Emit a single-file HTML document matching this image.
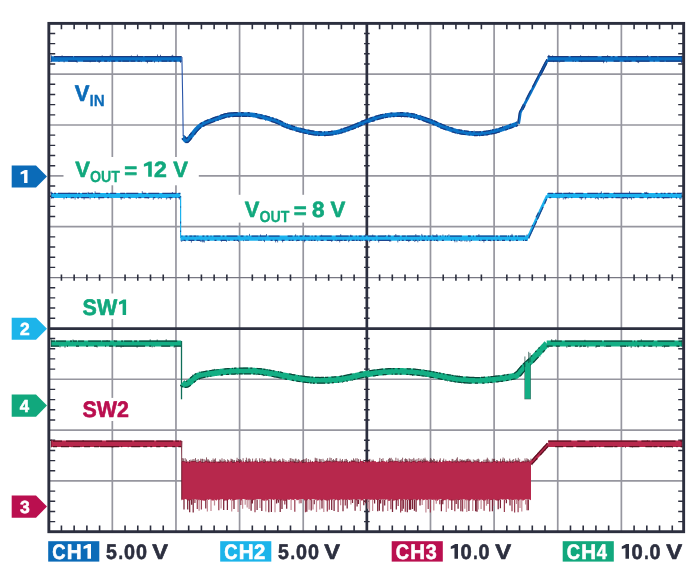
<!DOCTYPE html>
<html><head><meta charset="utf-8"><title>Scope</title>
<style>
html,body{margin:0;padding:0;background:#fff;}
body{width:700px;height:585px;overflow:hidden;font-family:"Liberation Sans",sans-serif;}
svg text.b{font-family:"Liberation Sans",sans-serif;font-weight:700;font-kerning:none;text-rendering:geometricPrecision;}
</style></head><body>
<svg width="700" height="585" viewBox="0 0 700 585" style="display:block">
<rect width="700" height="585" fill="#fff"/>
<path d="M112.33 24 V531 M175.96 24 V531 M239.59 24 V531 M303.22 24 V531 M430.48 24 V531 M494.11 24 V531 M557.74 24 V531 M621.37 24 V531 M50 74.15 H683 M50 125.00 H683 M50 175.85 H683 M50 226.70 H683 M50 379.25 H683 M50 430.10 H683 M50 480.95 H683" stroke="#96969f" stroke-width="1.7" fill="none"/>
<path d="M50 277.55 H683" stroke="#777782" stroke-width="1.3" fill="none"/>
<rect x="63.5" y="157" width="135.3" height="28.3" fill="#fff"/>
<rect x="236" y="194.8" width="112" height="27.8" fill="#fff"/>
<rect x="78" y="293.5" width="56" height="25.5" fill="#fff"/>
<rect x="78" y="397.9" width="56" height="23.1" fill="#fff"/>
<path d="M366.85 24 V531 M50 328.70 H683" stroke="#2c2f3f" stroke-width="2.7" fill="none"/>
<path d="M61.43 24 v5.3 M61.43 531 v-5.5 M61.43 274.45 v6.2 M74.15 24 v5.3 M74.15 531 v-5.5 M74.15 274.45 v6.2 M86.88 24 v5.3 M86.88 531 v-5.5 M86.88 274.45 v6.2 M99.60 24 v5.3 M99.60 531 v-5.5 M99.60 274.45 v6.2 M125.06 24 v5.3 M125.06 531 v-5.5 M125.06 274.45 v6.2 M137.78 24 v5.3 M137.78 531 v-5.5 M137.78 274.45 v6.2 M150.51 24 v5.3 M150.51 531 v-5.5 M150.51 274.45 v6.2 M163.23 24 v5.3 M163.23 531 v-5.5 M163.23 274.45 v6.2 M188.69 24 v5.3 M188.69 531 v-5.5 M188.69 274.45 v6.2 M201.41 24 v5.3 M201.41 531 v-5.5 M201.41 274.45 v6.2 M214.14 24 v5.3 M214.14 531 v-5.5 M214.14 274.45 v6.2 M226.86 24 v5.3 M226.86 531 v-5.5 M226.86 274.45 v6.2 M252.32 24 v5.3 M252.32 531 v-5.5 M252.32 274.45 v6.2 M265.04 24 v5.3 M265.04 531 v-5.5 M265.04 274.45 v6.2 M277.77 24 v5.3 M277.77 531 v-5.5 M277.77 274.45 v6.2 M290.49 24 v5.3 M290.49 531 v-5.5 M290.49 274.45 v6.2 M315.95 24 v5.3 M315.95 531 v-5.5 M315.95 274.45 v6.2 M328.67 24 v5.3 M328.67 531 v-5.5 M328.67 274.45 v6.2 M341.40 24 v5.3 M341.40 531 v-5.5 M341.40 274.45 v6.2 M354.12 24 v5.3 M354.12 531 v-5.5 M354.12 274.45 v6.2 M379.58 24 v5.3 M379.58 531 v-5.5 M379.58 274.45 v6.2 M392.30 24 v5.3 M392.30 531 v-5.5 M392.30 274.45 v6.2 M405.03 24 v5.3 M405.03 531 v-5.5 M405.03 274.45 v6.2 M417.75 24 v5.3 M417.75 531 v-5.5 M417.75 274.45 v6.2 M443.21 24 v5.3 M443.21 531 v-5.5 M443.21 274.45 v6.2 M455.93 24 v5.3 M455.93 531 v-5.5 M455.93 274.45 v6.2 M468.66 24 v5.3 M468.66 531 v-5.5 M468.66 274.45 v6.2 M481.38 24 v5.3 M481.38 531 v-5.5 M481.38 274.45 v6.2 M506.84 24 v5.3 M506.84 531 v-5.5 M506.84 274.45 v6.2 M519.56 24 v5.3 M519.56 531 v-5.5 M519.56 274.45 v6.2 M532.29 24 v5.3 M532.29 531 v-5.5 M532.29 274.45 v6.2 M545.01 24 v5.3 M545.01 531 v-5.5 M545.01 274.45 v6.2 M570.47 24 v5.3 M570.47 531 v-5.5 M570.47 274.45 v6.2 M583.19 24 v5.3 M583.19 531 v-5.5 M583.19 274.45 v6.2 M595.92 24 v5.3 M595.92 531 v-5.5 M595.92 274.45 v6.2 M608.64 24 v5.3 M608.64 531 v-5.5 M608.64 274.45 v6.2 M634.10 24 v5.3 M634.10 531 v-5.5 M634.10 274.45 v6.2 M646.82 24 v5.3 M646.82 531 v-5.5 M646.82 274.45 v6.2 M659.55 24 v5.3 M659.55 531 v-5.5 M659.55 274.45 v6.2 M672.27 24 v5.3 M672.27 531 v-5.5 M672.27 274.45 v6.2" stroke="#2c2f3f" stroke-width="1.6" fill="none"/>
<path d="M50 33.47 h5.2 M683 33.47 h-4.8 M364.05 33.47 h5.6 M50 43.64 h5.2 M683 43.64 h-4.8 M364.05 43.64 h5.6 M50 53.81 h5.2 M683 53.81 h-4.8 M364.05 53.81 h5.6 M50 63.98 h5.2 M683 63.98 h-4.8 M364.05 63.98 h5.6 M50 84.32 h5.2 M683 84.32 h-4.8 M364.05 84.32 h5.6 M50 94.49 h5.2 M683 94.49 h-4.8 M364.05 94.49 h5.6 M50 104.66 h5.2 M683 104.66 h-4.8 M364.05 104.66 h5.6 M50 114.83 h5.2 M683 114.83 h-4.8 M364.05 114.83 h5.6 M50 135.17 h5.2 M683 135.17 h-4.8 M364.05 135.17 h5.6 M50 145.34 h5.2 M683 145.34 h-4.8 M364.05 145.34 h5.6 M50 155.51 h5.2 M683 155.51 h-4.8 M364.05 155.51 h5.6 M50 165.68 h5.2 M683 165.68 h-4.8 M364.05 165.68 h5.6 M50 186.02 h5.2 M683 186.02 h-4.8 M364.05 186.02 h5.6 M50 196.19 h5.2 M683 196.19 h-4.8 M364.05 196.19 h5.6 M50 206.36 h5.2 M683 206.36 h-4.8 M364.05 206.36 h5.6 M50 216.53 h5.2 M683 216.53 h-4.8 M364.05 216.53 h5.6 M50 236.87 h5.2 M683 236.87 h-4.8 M364.05 236.87 h5.6 M50 247.04 h5.2 M683 247.04 h-4.8 M364.05 247.04 h5.6 M50 257.21 h5.2 M683 257.21 h-4.8 M364.05 257.21 h5.6 M50 267.38 h5.2 M683 267.38 h-4.8 M364.05 267.38 h5.6 M50 287.72 h5.2 M683 287.72 h-4.8 M364.05 287.72 h5.6 M50 297.89 h5.2 M683 297.89 h-4.8 M364.05 297.89 h5.6 M50 308.06 h5.2 M683 308.06 h-4.8 M364.05 308.06 h5.6 M50 318.23 h5.2 M683 318.23 h-4.8 M364.05 318.23 h5.6 M50 338.57 h5.2 M683 338.57 h-4.8 M364.05 338.57 h5.6 M50 348.74 h5.2 M683 348.74 h-4.8 M364.05 348.74 h5.6 M50 358.91 h5.2 M683 358.91 h-4.8 M364.05 358.91 h5.6 M50 369.08 h5.2 M683 369.08 h-4.8 M364.05 369.08 h5.6 M50 389.42 h5.2 M683 389.42 h-4.8 M364.05 389.42 h5.6 M50 399.59 h5.2 M683 399.59 h-4.8 M364.05 399.59 h5.6 M50 409.76 h5.2 M683 409.76 h-4.8 M364.05 409.76 h5.6 M50 419.93 h5.2 M683 419.93 h-4.8 M364.05 419.93 h5.6 M50 440.27 h5.2 M683 440.27 h-4.8 M364.05 440.27 h5.6 M50 450.44 h5.2 M683 450.44 h-4.8 M364.05 450.44 h5.6 M50 460.61 h5.2 M683 460.61 h-4.8 M364.05 460.61 h5.6 M50 470.78 h5.2 M683 470.78 h-4.8 M364.05 470.78 h5.6 M50 491.12 h5.2 M683 491.12 h-4.8 M364.05 491.12 h5.6 M50 501.29 h5.2 M683 501.29 h-4.8 M364.05 501.29 h5.6 M50 511.46 h5.2 M683 511.46 h-4.8 M364.05 511.46 h5.6 M50 521.63 h5.2 M683 521.63 h-4.8 M364.05 521.63 h5.6" stroke="#2c2f3f" stroke-width="1.4" fill="none"/>
<polyline points="51.0,58.9 52.0,58.9 53.0,58.9 54.0,58.9 55.0,58.9 56.0,58.9 57.0,58.9 58.0,58.9 59.0,58.9 60.0,58.9 61.0,58.9 62.1,58.9 63.1,58.9 64.1,58.9 65.1,58.9 66.1,58.9 67.1,58.9 68.1,58.9 69.1,58.9 70.1,58.9 71.1,58.9 72.1,58.9 73.1,58.9 74.1,58.9 75.1,58.9 76.1,58.9 77.1,58.9 78.1,58.9 79.1,58.9 80.1,58.9 81.1,58.9 82.1,58.9 83.1,58.9 84.2,58.9 85.2,58.9 86.2,58.9 87.2,58.9 88.2,58.9 89.2,58.9 90.2,58.9 91.2,58.9 92.2,58.9 93.2,58.9 94.2,58.9 95.2,58.9 96.2,58.9 97.2,58.9 98.2,58.9 99.2,58.9 100.2,58.9 101.2,58.9 102.2,58.9 103.2,58.9 104.2,58.9 105.2,58.9 106.3,58.9 107.3,58.9 108.3,58.9 109.3,58.9 110.3,58.9 111.3,58.9 112.3,58.9 113.3,58.9 114.3,58.9 115.3,58.9 116.3,58.9 117.3,58.9 118.3,58.9 119.3,58.9 120.3,58.9 121.3,58.9 122.3,58.9 123.3,58.9 124.3,58.9 125.3,58.9 126.3,58.9 127.4,58.9 128.4,58.9 129.4,58.9 130.4,58.9 131.4,58.9 132.4,58.9 133.4,58.9 134.4,58.9 135.4,58.9 136.4,58.9 137.4,58.9 138.4,58.9 139.4,58.9 140.4,58.9 141.4,58.9 142.4,58.9 143.4,58.9 144.4,58.9 145.4,58.9 146.4,58.9 147.4,58.9 148.4,58.9 149.5,58.9 150.5,58.9 151.5,58.9 152.5,58.9 153.5,58.9 154.5,58.9 155.5,58.9 156.5,58.9 157.5,58.9 158.5,58.9 159.5,58.9 160.5,58.9 161.5,58.9 162.5,58.9 163.5,58.9 164.5,58.9 165.5,58.9 166.5,58.9 167.5,58.9 168.5,58.9 169.5,58.9 170.5,58.9 171.6,58.9 172.6,58.9 173.6,58.9 174.6,58.9 175.6,58.9 176.6,58.9 177.6,58.9 178.6,58.9 179.6,58.9 180.6,58.9 181.6,58.9" fill="none" stroke="#0b72c6" stroke-width="5.5" stroke-linejoin="round"/>
<path d="M54.0 56.6 L55.0 56.6 L56.0 56.6 L57.0 56.6 L58.0 56.6 M58.0 56.6 L59.0 56.6 M59.0 56.6 L60.0 56.6 M60.0 56.6 L61.0 56.6 M61.0 56.6 L62.1 56.6 L63.1 56.6 M63.1 56.6 L64.1 56.6 L65.1 56.6 L66.1 56.6 L67.1 56.6 M67.1 56.6 L68.1 56.6 L69.1 56.6 M69.1 56.6 L70.1 56.6 L71.1 56.6 L72.1 56.6 L73.1 56.6 M74.1 56.6 L75.1 56.6 M75.1 56.6 L76.1 56.6 L77.1 56.6 L78.1 56.6 L79.1 56.6 M79.1 56.6 L80.1 56.6 L81.1 56.6 M81.1 56.6 L82.1 56.6 L83.1 56.6 M83.1 56.6 L84.2 56.6 L85.2 56.6 M85.2 56.6 L86.2 56.6 L87.2 56.6 L88.2 56.6 M88.2 56.6 L89.2 56.6 L90.2 56.6 M90.2 56.6 L91.2 56.6 L92.2 56.6 M92.2 56.6 L93.2 56.6 M93.2 56.6 L94.2 56.6 L95.2 56.6 M95.2 56.6 L96.2 56.6 L97.2 56.6 L98.2 56.6 L99.2 56.6 M99.2 56.6 L100.2 56.6 L101.2 56.6 L102.2 56.6 L103.2 56.6 M103.2 56.6 L104.2 56.6 L105.2 56.6 L106.3 56.6 L107.3 56.6 M107.3 56.6 L108.3 56.6 L109.3 56.6 M109.3 56.6 L110.3 56.6 L111.3 56.6 M111.3 56.6 L112.3 56.6 L113.3 56.6 L114.3 56.6 M114.3 56.6 L115.3 56.6 L116.3 56.6 L117.3 56.6 M117.3 56.6 L118.3 56.6 L119.3 56.6 L120.3 56.6 M120.3 56.6 L121.3 56.6 M121.3 56.6 L122.3 56.6 L123.3 56.6 L124.3 56.6 L125.3 56.6 M125.3 56.6 L126.3 56.6 L127.4 56.6 L128.4 56.6 M128.4 56.6 L129.4 56.6 L130.4 56.6 L131.4 56.6 L132.4 56.6 M132.4 56.6 L133.4 56.6 M133.4 56.6 L134.4 56.6 L135.4 56.6 L136.4 56.6 M136.4 56.6 L137.4 56.6 L138.4 56.6 L139.4 56.6 M139.4 56.6 L140.4 56.6 L141.4 56.6 L142.4 56.6 L143.4 56.6 M144.4 56.6 L145.4 56.6 L146.4 56.6 L147.4 56.6 L148.4 56.6 M148.4 56.6 L149.5 56.6 M149.5 56.6 L150.5 56.6 L151.5 56.6 L152.5 56.6 M152.5 56.6 L153.5 56.6 L154.5 56.6 L155.5 56.6 L156.5 56.6 M156.5 56.6 L157.5 56.6 L158.5 56.6 L159.5 56.6 L160.5 56.6 M160.5 56.6 L161.5 56.6 L162.5 56.6 L163.5 56.6 M163.5 56.6 L164.5 56.6 L165.5 56.6 L166.5 56.6 L167.5 56.6 M167.5 56.6 L168.5 56.6 M168.5 56.6 L169.5 56.6 L170.5 56.6 M170.5 56.6 L171.6 56.6 L172.6 56.6 M172.6 56.6 L173.6 56.6 L174.6 56.6 L175.6 56.6 L176.6 56.6 M176.6 56.6 L177.6 56.6 L178.6 56.6 L179.6 56.6 L180.6 56.6 M180.6 56.6 L181.6 56.6 M68.1 61.2 L69.1 61.2 L70.1 61.2 M70.1 61.2 L71.1 61.2 L72.1 61.2 M72.1 61.2 L73.1 61.2 L74.1 61.2 M74.1 61.2 L75.1 61.2 L76.1 61.2 M76.1 61.2 L77.1 61.2 M83.1 61.2 L84.2 61.2 M84.2 61.2 L85.2 61.2 L86.2 61.2 L87.2 61.2 L88.2 61.2 M88.2 61.2 L89.2 61.2 L90.2 61.2 L91.2 61.2 L92.2 61.2 M92.2 61.2 L93.2 61.2 L94.2 61.2 L95.2 61.2 L96.2 61.2 M97.2 61.2 L98.2 61.2 L99.2 61.2 L100.2 61.2 L101.2 61.2 M104.2 61.2 L105.2 61.2 M105.2 61.2 L106.3 61.2 L107.3 61.2 M111.3 61.2 L112.3 61.2 L113.3 61.2 L114.3 61.2 L115.3 61.2 M118.3 61.2 L119.3 61.2 L120.3 61.2 L121.3 61.2 M122.3 61.2 L123.3 61.2 L124.3 61.2 L125.3 61.2 L126.3 61.2 M126.3 61.2 L127.4 61.2 L128.4 61.2 L129.4 61.2 M130.4 61.2 L131.4 61.2 L132.4 61.2 L133.4 61.2 M133.4 61.2 L134.4 61.2 L135.4 61.2 M137.4 61.2 L138.4 61.2 L139.4 61.2 L140.4 61.2 M145.4 61.2 L146.4 61.2 L147.4 61.2 L148.4 61.2 M148.4 61.2 L149.5 61.2 L150.5 61.2 M150.5 61.2 L151.5 61.2 L152.5 61.2 M161.5 61.2 L162.5 61.2 L163.5 61.2 M163.5 61.2 L164.5 61.2 L165.5 61.2 L166.5 61.2 L167.5 61.2 M168.5 61.2 L169.5 61.2 L170.5 61.2 L171.6 61.2 M173.6 61.2 L174.6 61.2 L175.6 61.2 L176.6 61.2 M179.6 61.2 L180.6 61.2 L181.6 61.2" stroke="#17367c" stroke-width="1.25" fill="none" opacity="0.95"/>
<path d="M51.0 61.0 l-0.0 1.1 M59.0 61.0 l-0.0 1.0 M62.1 56.8 l0.0 -1.5 M64.1 61.0 l-0.0 1.4 M68.1 56.8 l0.0 -0.8 M76.1 61.0 l-0.0 1.0 M77.1 61.0 l-0.0 1.8 M90.2 61.0 l-0.0 1.3 M99.2 61.0 l-0.0 2.0 M102.2 56.8 l0.0 -1.5 M109.3 61.0 l-0.0 0.9 M110.3 56.8 l0.0 -2.0 M131.4 56.8 l0.0 -1.4 M137.4 56.8 l0.0 -2.2 M141.4 61.0 l-0.0 1.1 M147.4 61.0 l-0.0 2.3 M151.5 61.0 l-0.0 0.8 M154.5 61.0 l-0.0 1.6 M157.5 56.8 l0.0 -2.3 M158.5 61.0 l-0.0 1.2 M160.5 56.8 l0.0 -2.0 M171.6 56.8 l0.0 -1.2 M172.6 56.8 l0.0 -2.0 M173.6 56.8 l0.0 -0.9 M180.6 61.0 l-0.0 1.9" stroke="#17367c" stroke-width="0.9" fill="none" opacity="0.8"/>
<path d="M181.9 57 L182.7 100 L183.2 136" stroke="#2a55a8" stroke-width="1.1" fill="none"/>
<polygon points="183.2,135.5 184.6,135.5 186.2,138.2 189.5,136.8 190.8,138.4 187.8,142.9 185.4,142.9 183.2,140.2" fill="#0b72c6" stroke="#17367c" stroke-width="0.6" stroke-opacity="0.6"/>
<polyline points="183.6,137.5 184.3,138.7 185.2,140.0 186.2,140.6 187.2,140.6 188.1,139.7 189.2,138.3 190.5,136.8 192.0,135.0 192.9,133.7 193.9,132.4 195.0,131.0 195.9,129.9 196.9,128.8 197.9,127.8 199.0,126.8 199.9,126.1 200.9,125.4 201.9,124.8 202.9,124.2 204.0,123.6 205.0,123.1 206.0,122.7 207.0,122.3 208.0,121.9 209.2,121.4 210.3,121.0 211.3,120.6 212.3,120.2 213.4,119.8 214.5,119.4 215.6,119.0 216.8,118.6 218.0,118.2 219.0,117.9 219.9,117.5 220.9,117.1 221.9,116.8 222.9,116.4 224.0,116.0 225.1,115.7 226.2,115.4 227.4,115.2 228.3,115.1 229.3,114.9 230.3,114.8 231.3,114.7 232.3,114.7 233.4,114.6 234.4,114.6 235.5,114.5 236.6,114.5 237.7,114.5 238.9,114.5 240.0,114.5 240.9,114.5 241.8,114.5 242.8,114.5 243.7,114.5 244.6,114.5 245.6,114.5 246.6,114.5 247.5,114.5 248.5,114.6 249.5,114.6 250.6,114.7 251.6,114.8 252.7,115.0 253.8,115.1 255.0,115.3 255.9,115.5 256.8,115.7 257.8,115.9 258.8,116.1 259.8,116.3 260.9,116.6 261.9,116.8 263.0,117.1 264.1,117.4 265.2,117.7 266.2,118.0 267.3,118.3 268.4,118.6 269.4,118.9 270.4,119.2 271.4,119.5 272.4,119.8 273.3,120.1 274.2,120.4 275.0,120.7 276.3,121.2 277.5,121.6 278.5,122.1 279.5,122.5 280.5,123.0 281.4,123.5 282.3,123.9 283.2,124.4 284.2,124.9 285.2,125.3 286.3,125.8 287.5,126.2 288.4,126.5 289.3,126.8 290.3,127.2 291.3,127.5 292.4,127.8 293.4,128.1 294.5,128.5 295.6,128.8 296.6,129.1 297.7,129.4 298.8,129.7 299.9,130.0 300.9,130.3 302.0,130.6 303.0,130.8 304.0,131.1 305.0,131.3 306.1,131.5 307.1,131.8 308.2,132.0 309.2,132.2 310.2,132.4 311.2,132.6 312.2,132.8 313.1,132.9 314.1,133.1 315.1,133.2 316.1,133.3 317.0,133.4 318.0,133.5 319.0,133.5 320.0,133.6 321.0,133.6 322.0,133.7 323.0,133.7 324.0,133.7 325.0,133.6 326.0,133.6 327.0,133.5 328.0,133.5 329.0,133.4 330.0,133.3 331.0,133.2 332.0,133.1 333.0,132.9 334.0,132.8 335.0,132.6 336.0,132.4 337.0,132.2 338.0,132.0 339.0,131.7 339.9,131.5 340.9,131.2 341.9,130.9 342.9,130.6 343.9,130.3 344.9,130.0 345.9,129.6 346.9,129.3 347.9,128.9 349.0,128.6 350.0,128.2 351.0,127.8 352.0,127.4 353.0,127.0 354.1,126.6 355.1,126.2 356.2,125.7 357.2,125.3 358.3,124.8 359.4,124.3 360.4,123.9 361.5,123.4 362.5,122.9 363.6,122.5 364.6,122.1 365.7,121.7 366.7,121.3 367.8,120.9 368.9,120.5 369.9,120.1 371.0,119.7 372.1,119.4 373.1,119.0 374.2,118.6 375.2,118.3 376.3,118.0 377.3,117.7 378.4,117.3 379.4,117.1 380.4,116.8 381.5,116.5 382.5,116.3 383.5,116.1 384.5,115.9 385.6,115.7 386.6,115.5 387.6,115.4 388.6,115.3 389.6,115.1 390.5,115.0 391.5,114.9 392.5,114.8 393.5,114.8 394.5,114.7 395.5,114.7 396.5,114.6 397.5,114.6 398.5,114.6 399.5,114.6 400.5,114.6 401.4,114.6 402.4,114.6 403.4,114.6 404.4,114.6 405.3,114.7 406.3,114.7 407.3,114.8 408.3,114.9 409.3,115.1 410.4,115.2 411.4,115.4 412.5,115.6 413.5,115.8 414.5,116.0 415.5,116.3 416.5,116.6 417.5,116.9 418.6,117.2 419.7,117.5 420.7,117.9 421.8,118.2 422.8,118.6 423.9,119.0 425.0,119.4 426.0,119.7 427.0,120.1 428.0,120.5 429.0,120.8 430.0,121.2 431.1,121.6 432.1,122.0 433.2,122.4 434.2,122.9 435.2,123.3 436.2,123.8 437.2,124.2 438.1,124.6 439.1,125.1 440.1,125.5 441.1,125.9 442.0,126.4 443.0,126.7 444.0,127.1 445.0,127.5 446.0,127.9 447.0,128.2 448.0,128.5 448.9,128.9 449.9,129.2 450.9,129.5 451.8,129.8 452.8,130.1 453.8,130.4 454.8,130.7 455.8,131.0 456.8,131.2 457.8,131.5 458.9,131.7 460.0,131.9 460.9,132.1 461.9,132.2 462.8,132.4 463.8,132.6 464.8,132.7 465.8,132.8 466.8,133.0 467.8,133.1 468.9,133.2 469.9,133.3 470.9,133.4 472.0,133.5 473.0,133.6 474.0,133.6 475.0,133.7 476.0,133.7 477.0,133.7 478.0,133.7 479.0,133.7 480.1,133.6 481.1,133.6 482.1,133.5 483.1,133.4 484.2,133.3 485.2,133.1 486.2,133.0 487.2,132.8 488.2,132.7 489.2,132.5 490.2,132.3 491.2,132.1 492.1,131.9 493.1,131.7 494.1,131.5 495.0,131.3 496.1,131.0 497.2,130.8 498.2,130.4 499.3,130.1 500.4,129.8 501.5,129.4 502.6,129.1 503.6,128.7 504.6,128.3 505.6,128.0 506.6,127.6 507.5,127.3 508.4,127.0 509.2,126.7 510.0,126.4 511.5,125.9 512.9,125.4 514.1,124.9 515.2,124.6 516.1,124.2 516.9,123.9 517.5,123.7" fill="none" stroke="#0b72c6" stroke-width="4.6" stroke-linejoin="round"/>
<path d="M185.2 136.6 L185.8 137.7 M185.8 137.7 L186.5 138.7 M186.4 138.9 L186.8 138.5 M186.8 138.5 L187.8 137.1 M189.1 135.6 L190.6 133.8 M190.6 133.8 L191.5 132.6 M199.8 123.9 L200.9 123.2 M200.9 123.2 L202.0 122.6 M204.2 121.5 L205.2 121.0 M205.2 121.0 L206.3 120.6 L207.4 120.1 M207.4 120.1 L208.5 119.7 M210.7 118.9 L211.7 118.5 L212.8 118.1 M212.8 118.1 L213.9 117.7 L215.0 117.3 M215.0 117.3 L216.2 116.9 M216.2 116.9 L217.4 116.5 L218.3 116.1 M220.2 115.4 L221.2 115.0 L222.3 114.6 M222.3 114.6 L223.4 114.3 L224.6 113.9 M224.6 113.9 L225.8 113.6 M225.8 113.6 L227.1 113.4 L228.1 113.2 M228.1 113.2 L229.1 113.1 L230.1 113.0 M230.1 113.0 L231.1 112.9 M231.1 112.9 L232.2 112.8 M232.2 112.8 L233.3 112.8 M233.3 112.8 L234.4 112.7 M234.4 112.7 L235.5 112.7 L236.6 112.7 M236.6 112.7 L237.7 112.7 M240.9 112.7 L241.8 112.6 L242.8 112.6 M242.8 112.6 L243.7 112.6 M247.6 112.7 L248.6 112.7 M248.6 112.7 L249.7 112.8 M255.3 113.5 L256.2 113.6 M256.2 113.6 L257.2 113.8 M260.3 114.5 L261.3 114.8 L262.4 115.1 M264.6 115.6 L265.6 115.9 M265.6 115.9 L266.7 116.2 L267.8 116.5 M267.8 116.5 L268.9 116.8 L269.9 117.2 M271.9 117.8 L272.9 118.1 M272.9 118.1 L273.8 118.4 M275.6 119.0 L276.9 119.4 M276.9 119.4 L278.2 119.9 M279.3 120.4 L280.3 120.9 L281.3 121.3 M281.3 121.3 L282.2 121.8 L283.1 122.3 M285.0 123.2 L285.9 123.6 M287.0 124.0 L288.1 124.5 M290.9 125.4 L291.9 125.7 L292.9 126.1 M292.9 126.1 L294.0 126.4 M294.0 126.4 L295.0 126.7 M300.4 128.2 L301.4 128.5 L302.5 128.8 M302.5 128.8 L303.5 129.0 L304.5 129.3 M304.5 129.3 L305.4 129.5 M307.5 130.0 L308.5 130.2 L309.5 130.4 M309.5 130.4 L310.5 130.6 M310.5 130.6 L311.5 130.8 L312.5 130.9 M312.5 130.9 L313.4 131.1 L314.4 131.2 M318.2 131.6 L319.1 131.7 L320.1 131.8 M320.1 131.8 L321.1 131.8 M321.1 131.8 L322.0 131.8 M324.0 131.8 L324.9 131.8 M327.9 131.6 L328.8 131.6 M328.8 131.6 L329.8 131.5 L330.8 131.4 M330.8 131.4 L331.8 131.2 L332.7 131.1 M340.4 129.4 L341.4 129.1 L342.3 128.9 M343.3 128.5 L344.3 128.2 L345.3 127.9 M345.3 127.9 L346.3 127.5 M346.3 127.5 L347.3 127.2 L348.3 126.8 M348.3 126.8 L349.4 126.5 L350.3 126.1 M350.3 126.1 L351.3 125.7 L352.3 125.3 M352.3 125.3 L353.4 124.9 M353.4 124.9 L354.4 124.5 L355.4 124.0 M355.4 124.0 L356.5 123.6 M356.5 123.6 L357.6 123.1 L358.6 122.6 M360.8 121.7 L361.8 121.2 L362.9 120.8 M362.9 120.8 L364.0 120.4 M364.0 120.4 L365.0 120.0 M365.0 120.0 L366.1 119.6 M366.1 119.6 L367.1 119.2 L368.2 118.8 M369.3 118.4 L370.4 118.0 L371.5 117.6 M371.5 117.6 L372.5 117.3 M374.7 116.5 L375.7 116.2 L376.8 115.9 M376.8 115.9 L377.9 115.6 L378.9 115.3 M378.9 115.3 L380.0 115.0 M380.0 115.0 L381.0 114.7 M381.0 114.7 L382.1 114.5 L383.2 114.3 M385.2 113.9 L386.3 113.7 M390.4 113.2 L391.4 113.1 L392.4 113.0 M397.5 112.8 L398.5 112.7 M399.5 112.7 L400.5 112.7 L401.4 112.7 M401.4 112.7 L402.4 112.7 M402.4 112.7 L403.4 112.7 M406.5 112.9 L407.5 113.0 L408.5 113.1 M410.7 113.4 L411.8 113.6 M411.8 113.6 L412.9 113.8 L413.9 114.0 M413.9 114.0 L414.9 114.2 M415.9 114.5 L417.0 114.8 M421.3 116.1 L422.4 116.5 M422.4 116.5 L423.5 116.9 M424.5 117.2 L425.6 117.6 L426.6 118.0 M426.6 118.0 L427.7 118.4 M427.7 118.4 L428.7 118.7 L429.7 119.1 M430.6 119.5 L431.7 119.9 L432.8 120.3 M433.9 120.7 L434.9 121.2 L435.9 121.6 M435.9 121.6 L436.9 122.1 L437.9 122.5 M439.9 123.4 L440.8 123.8 M440.8 123.8 L441.8 124.2 M441.8 124.2 L442.7 124.6 M442.7 124.6 L443.7 125.0 M443.7 125.0 L444.7 125.4 L445.6 125.8 M447.6 126.5 L448.6 126.8 M450.5 127.4 L451.4 127.8 M451.4 127.8 L452.4 128.1 M452.4 128.1 L453.3 128.4 M458.3 129.7 L459.3 129.9 L460.3 130.1 M460.3 130.1 L461.3 130.2 L462.2 130.4 M464.1 130.7 L465.1 130.9 L466.1 131.0 M466.1 131.0 L467.1 131.1 M467.1 131.1 L468.1 131.3 L469.1 131.4 M471.1 131.6 L472.1 131.7 M472.1 131.7 L473.1 131.7 M475.1 131.8 L476.1 131.8 L477.0 131.9 M477.0 131.9 L478.0 131.9 L479.0 131.8 M479.0 131.8 L480.0 131.8 L481.0 131.7 M482.9 131.5 L483.9 131.4 L484.9 131.3 M484.9 131.3 L485.9 131.2 L486.9 131.0 M486.9 131.0 L487.9 130.9 L488.9 130.7 M488.9 130.7 L489.8 130.5 M489.8 130.5 L490.8 130.3 M491.8 130.1 L492.7 129.9 L493.7 129.7 M495.6 129.2 L496.7 129.0 M498.8 128.3 L499.9 128.0 L500.9 127.7 M500.9 127.7 L502.0 127.3 M502.0 127.3 L503.0 126.9 M509.4 124.7 L510.9 124.1 M516.2 122.2 L516.9 122.0 M182.0 138.4 L182.7 139.7 M185.6 142.4 L188.0 142.3 M188.0 142.3 L189.5 140.9 M189.5 140.9 L190.6 139.5 L191.9 138.0 M194.4 134.8 L195.4 133.5 M195.4 133.5 L196.4 132.2 M196.4 132.2 L197.3 131.2 L198.2 130.1 M198.2 130.1 L199.2 129.1 L200.2 128.2 M200.2 128.2 L201.0 127.6 M202.8 126.4 L203.8 125.8 L204.8 125.2 M204.8 125.2 L205.7 124.8 L206.7 124.4 M206.7 124.4 L207.7 124.0 L208.7 123.6 M208.7 123.6 L209.8 123.2 M209.8 123.2 L211.0 122.7 M211.0 122.7 L212.0 122.3 M212.0 122.3 L213.0 122.0 L214.1 121.6 M214.1 121.6 L215.1 121.2 M217.4 120.4 L218.6 119.9 M221.5 118.9 L222.5 118.5 L223.5 118.1 M223.5 118.1 L224.5 117.8 L225.5 117.5 M225.5 117.5 L226.6 117.2 M227.7 117.0 L228.6 116.9 L229.5 116.8 M229.5 116.8 L230.4 116.7 M232.4 116.5 L233.4 116.5 M233.4 116.5 L234.5 116.4 L235.5 116.4 M235.5 116.4 L236.6 116.4 L237.7 116.4 M237.7 116.4 L238.9 116.3 M238.9 116.3 L240.0 116.3 L240.9 116.4 M241.9 116.3 L242.8 116.3 L243.7 116.3 M243.7 116.3 L244.6 116.3 L245.6 116.3 M245.6 116.3 L246.5 116.4 L247.5 116.4 M248.4 116.4 L249.4 116.5 L250.4 116.6 M257.4 117.7 L258.4 117.9 L259.4 118.1 M259.4 118.1 L260.4 118.4 M260.4 118.4 L261.5 118.6 L262.5 118.9 M270.9 121.3 L271.8 121.6 L272.7 121.9 M272.7 121.9 L273.6 122.2 M273.6 122.2 L274.4 122.4 L275.6 122.9 M275.6 122.9 L276.8 123.3 M276.8 123.3 L277.8 123.8 M277.8 123.8 L278.7 124.2 L279.7 124.7 M281.5 125.6 L282.4 126.1 M282.4 126.1 L283.4 126.5 L284.5 127.0 M285.6 127.5 L286.9 127.9 M286.9 127.9 L287.8 128.3 M288.8 128.6 L289.7 128.9 L290.8 129.2 M290.8 129.2 L291.8 129.6 L292.9 129.9 M296.1 130.9 L297.2 131.2 M297.2 131.2 L298.3 131.5 M298.3 131.5 L299.4 131.8 M299.4 131.8 L300.5 132.1 M300.5 132.1 L301.5 132.4 M302.6 132.6 L303.6 132.9 L304.6 133.1 M304.6 133.1 L305.7 133.3 L306.7 133.6 M308.8 134.0 L309.8 134.2 L310.9 134.4 M310.9 134.4 L311.9 134.6 L312.9 134.7 M312.9 134.7 L313.9 134.9 L314.9 135.0 M314.9 135.0 L315.9 135.1 L316.9 135.2 M317.9 135.3 L318.9 135.4 L319.9 135.4 M324.0 135.5 L325.1 135.5 L326.1 135.4 M326.1 135.4 L327.1 135.4 M327.1 135.4 L328.1 135.3 L329.2 135.2 M329.2 135.2 L330.2 135.1 L331.2 135.0 M331.2 135.0 L332.2 134.9 M332.2 134.9 L333.3 134.8 M335.3 134.4 L336.4 134.2 M338.4 133.8 L339.4 133.5 M340.4 133.3 L341.4 133.0 M341.4 133.0 L342.4 132.7 L343.4 132.4 M344.4 132.1 L345.5 131.7 M347.5 131.0 L348.5 130.7 L349.6 130.3 M351.6 129.6 L352.7 129.2 L353.7 128.7 M353.7 128.7 L354.8 128.3 L355.8 127.9 M358.0 126.9 L359.0 126.5 M359.0 126.5 L360.1 126.0 M360.1 126.0 L361.2 125.6 L362.2 125.1 M364.3 124.2 L365.3 123.8 L366.3 123.4 M366.3 123.4 L367.3 123.0 L368.4 122.6 M371.6 121.5 L372.7 121.1 L373.7 120.8 M373.7 120.8 L374.8 120.4 M376.8 119.7 L377.9 119.4 L378.9 119.1 M378.9 119.1 L379.9 118.8 L380.9 118.6 M380.9 118.6 L381.9 118.3 L382.9 118.1 M382.9 118.1 L383.9 117.9 M384.9 117.7 L385.9 117.5 M385.9 117.5 L386.8 117.4 L387.8 117.2 M389.8 117.0 L390.7 116.9 M392.7 116.7 L393.6 116.6 L394.6 116.6 M396.6 116.5 L397.5 116.4 M397.5 116.4 L398.5 116.4 M398.5 116.4 L399.5 116.4 M399.5 116.4 L400.5 116.4 L401.4 116.4 M401.4 116.4 L402.4 116.4 L403.3 116.4 M403.3 116.4 L404.3 116.5 L405.2 116.5 M405.2 116.5 L406.2 116.6 M406.2 116.6 L407.1 116.7 L408.1 116.8 M410.1 117.0 L411.1 117.2 L412.1 117.4 M413.1 117.6 L414.0 117.8 L415.0 118.1 M418.0 119.0 L419.1 119.3 L420.1 119.6 M422.2 120.4 L423.3 120.7 L424.3 121.1 M424.3 121.1 L425.4 121.5 M425.4 121.5 L426.4 121.8 M426.4 121.8 L427.4 122.2 M427.4 122.2 L428.4 122.6 M428.4 122.6 L429.4 122.9 M429.4 122.9 L430.4 123.3 M432.4 124.2 L433.4 124.6 M433.4 124.6 L434.4 125.0 M437.4 126.3 L438.4 126.8 M440.3 127.6 L441.3 128.1 L442.3 128.5 M442.3 128.5 L443.3 128.9 L444.4 129.2 M444.4 129.2 L445.4 129.6 M445.4 129.6 L446.4 129.9 M452.3 131.9 L453.3 132.2 L454.3 132.5 M454.3 132.5 L455.3 132.8 M455.3 132.8 L456.4 133.0 M458.5 133.5 L459.7 133.7 L460.6 133.9 M460.6 133.9 L461.6 134.1 L462.5 134.2 M462.5 134.2 L463.5 134.4 M463.5 134.4 L464.5 134.5 L465.6 134.7 M468.7 135.1 L469.7 135.2 M473.9 135.5 L475.0 135.5 M475.0 135.5 L476.0 135.5 M476.0 135.5 L477.0 135.6 M477.0 135.6 L478.0 135.5 M479.1 135.5 L480.2 135.5 M481.2 135.4 L482.3 135.3 M482.3 135.3 L483.3 135.2 L484.4 135.1 M485.4 135.0 L486.5 134.8 L487.5 134.7 M487.5 134.7 L488.5 134.5 M488.5 134.5 L489.5 134.3 M490.5 134.1 L491.5 133.9 L492.5 133.7 M492.5 133.7 L493.5 133.5 M493.5 133.5 L494.5 133.3 M494.5 133.3 L495.4 133.1 L496.5 132.8 M496.5 132.8 L497.6 132.5 M497.6 132.5 L498.8 132.2 L499.9 131.9 M505.3 130.1 L506.3 129.7 M506.3 129.7 L507.2 129.4 M507.2 129.4 L508.1 129.0 M509.0 128.7 L509.8 128.4 M509.8 128.4 L510.6 128.1 L512.1 127.6 M512.1 127.6 L513.5 127.1 M515.8 126.3 L516.8 125.9 M516.8 125.9 L517.5 125.7 L518.1 125.4" stroke="#17367c" stroke-width="1.25" fill="none" opacity="0.95"/>
<path d="M203.7 125.7 l0.6 1.1 M220.5 119.1 l0.3 0.9 M260.5 118.2 l-0.3 1.2 M265.8 119.6 l-0.3 1.1 M284.5 126.9 l-0.4 0.8 M290.8 129.1 l-0.3 1.0 M296.2 130.7 l-0.3 1.2 M308.8 133.9 l-0.2 1.0 M318.9 135.2 l-0.1 1.0 M320.1 131.9 l0.0 -1.0 M357.9 126.8 l0.5 1.1 M364.2 124.1 l0.3 0.8 M367.3 122.9 l0.4 1.2 M371.5 117.8 l-0.3 -0.9 M373.7 120.6 l0.3 0.9 M401.4 116.3 l-0.0 1.3 M420.2 115.9 l0.3 -1.1 M426.4 121.7 l-0.3 0.9 M428.4 122.4 l-0.3 0.9 M452.3 131.8 l-0.3 1.0 M457.5 133.1 l-0.2 1.1 M474.1 131.9 l0.1 -1.3 M487.5 134.5 l0.2 1.0 M493.5 133.4 l0.2 1.0 M503.0 127.1 l-0.3 -0.8" stroke="#17367c" stroke-width="0.9" fill="none" opacity="0.8"/>
<polyline points="518.6,123.8 519.5,118.2 520.3,112.5 521.1,110.9 521.9,109.4 522.7,107.8 523.5,106.3 524.3,104.7 525.1,103.2 525.9,101.6 526.7,100.1 527.6,98.5 528.4,96.9 529.2,95.4 530.0,93.8 530.8,92.3 531.6,90.7 532.4,89.2 533.2,87.6 534.0,86.0 534.8,84.5 535.6,82.9 536.4,81.4 537.2,79.8 538.0,78.3 538.8,76.7 539.6,75.2 540.4,73.6 541.3,72.0 542.1,70.5 542.9,68.9 543.7,67.4 544.5,65.8 545.3,64.3 546.1,62.7 546.9,61.2 547.7,59.6" fill="none" stroke="#0b72c6" stroke-width="2.8" stroke-linejoin="round"/>
<path d="M517.7 123.7 L518.5 118.0 L519.4 112.3 M519.4 112.3 L520.3 110.5 M520.3 110.5 L521.1 109.0 L521.9 107.4 L522.7 105.8 L523.5 104.3 M525.9 99.6 L526.7 98.1 M526.7 98.1 L527.5 96.5 M527.5 96.5 L528.3 94.9 M528.3 94.9 L529.1 93.4 L529.9 91.8 L530.7 90.3 M532.4 87.2 L533.2 85.6 L534.0 84.1 L534.8 82.5 L535.6 80.9 M535.6 80.9 L536.4 79.4 L537.2 77.8 L538.0 76.3 M538.0 76.3 L538.8 74.7 L539.6 73.2 L540.4 71.6 L541.2 70.1 M541.2 70.1 L542.0 68.5 L542.8 66.9 M542.8 66.9 L543.6 65.4 M543.6 65.4 L544.4 63.8 L545.2 62.3 M545.2 62.3 L546.1 60.7 L546.9 59.2 M522.8 109.8 L523.6 108.3 L524.4 106.7 L525.2 105.2 M540.5 75.6 L541.3 74.0 L542.1 72.5 L542.9 70.9 M542.9 70.9 L543.7 69.4 L544.5 67.8 L545.3 66.3 L546.1 64.7 M546.1 64.7 L546.9 63.1" stroke="#17367c" stroke-width="1.25" fill="none" opacity="0.95"/>
<polyline points="547.6,58.9 548.6,58.9 549.6,58.9 550.6,58.9 551.6,58.9 552.6,58.9 553.6,58.9 554.6,58.9 555.6,58.9 556.6,58.9 557.6,58.9 558.6,58.9 559.6,58.9 560.6,58.9 561.6,58.9 562.6,58.9 563.6,58.9 564.6,58.9 565.6,58.9 566.6,58.9 567.6,58.9 568.6,58.9 569.6,58.9 570.6,58.9 571.6,58.9 572.6,58.9 573.6,58.9 574.6,58.9 575.6,58.9 576.6,58.9 577.6,58.9 578.6,58.9 579.6,58.9 580.6,58.9 581.6,58.9 582.6,58.9 583.6,58.9 584.6,58.9 585.6,58.9 586.6,58.9 587.6,58.9 588.6,58.9 589.6,58.9 590.6,58.9 591.6,58.9 592.6,58.9 593.6,58.9 594.6,58.9 595.6,58.9 596.6,58.9 597.6,58.9 598.6,58.9 599.6,58.9 600.6,58.9 601.6,58.9 602.6,58.9 603.6,58.9 604.6,58.9 605.6,58.9 606.6,58.9 607.6,58.9 608.6,58.9 609.6,58.9 610.6,58.9 611.6,58.9 612.6,58.9 613.6,58.9 614.6,58.9 615.6,58.9 616.6,58.9 617.6,58.9 618.6,58.9 619.6,58.9 620.6,58.9 621.6,58.9 622.6,58.9 623.6,58.9 624.6,58.9 625.6,58.9 626.6,58.9 627.6,58.9 628.6,58.9 629.6,58.9 630.6,58.9 631.6,58.9 632.6,58.9 633.6,58.9 634.6,58.9 635.6,58.9 636.6,58.9 637.6,58.9 638.6,58.9 639.6,58.9 640.6,58.9 641.6,58.9 642.6,58.9 643.6,58.9 644.6,58.9 645.6,58.9 646.6,58.9 647.6,58.9 648.6,58.9 649.6,58.9 650.6,58.9 651.6,58.9 652.6,58.9 653.6,58.9 654.6,58.9 655.6,58.9 656.6,58.9 657.6,58.9 658.6,58.9 659.6,58.9 660.6,58.9 661.6,58.9 662.6,58.9 663.6,58.9 664.6,58.9 665.6,58.9 666.6,58.9 667.6,58.9 668.6,58.9 669.6,58.9 670.6,58.9 671.6,58.9 672.6,58.9 673.6,58.9 674.6,58.9 675.6,58.9 676.6,58.9 677.6,58.9 678.6,58.9 679.6,58.9 680.6,58.9 681.6,58.9 682.6,58.9" fill="none" stroke="#0b72c6" stroke-width="5.5" stroke-linejoin="round"/>
<path d="M547.6 56.6 L548.6 56.6 L549.6 56.6 L550.6 56.6 M550.6 56.6 L551.6 56.6 L552.6 56.6 L553.6 56.6 M553.6 56.6 L554.6 56.6 L555.6 56.6 M555.6 56.6 L556.6 56.6 L557.6 56.6 L558.6 56.6 L559.6 56.6 M559.6 56.6 L560.6 56.6 M560.6 56.6 L561.6 56.6 L562.6 56.6 L563.6 56.6 L564.6 56.6 M564.6 56.6 L565.6 56.6 L566.6 56.6 M566.6 56.6 L567.6 56.6 M567.6 56.6 L568.6 56.6 M570.6 56.6 L571.6 56.6 L572.6 56.6 L573.6 56.6 L574.6 56.6 M574.6 56.6 L575.6 56.6 L576.6 56.6 M576.6 56.6 L577.6 56.6 L578.6 56.6 L579.6 56.6 M579.6 56.6 L580.6 56.6 L581.6 56.6 L582.6 56.6 L583.6 56.6 M583.6 56.6 L584.6 56.6 L585.6 56.6 M585.6 56.6 L586.6 56.6 M586.6 56.6 L587.6 56.6 L588.6 56.6 M588.6 56.6 L589.6 56.6 M589.6 56.6 L590.6 56.6 L591.6 56.6 L592.6 56.6 M592.6 56.6 L593.6 56.6 L594.6 56.6 L595.6 56.6 L596.6 56.6 M596.6 56.6 L597.6 56.6 M601.6 56.6 L602.6 56.6 M602.6 56.6 L603.6 56.6 L604.6 56.6 M604.6 56.6 L605.6 56.6 L606.6 56.6 L607.6 56.6 L608.6 56.6 M608.6 56.6 L609.6 56.6 L610.6 56.6 M612.6 56.6 L613.6 56.6 L614.6 56.6 M617.6 56.6 L618.6 56.6 M618.6 56.6 L619.6 56.6 M619.6 56.6 L620.6 56.6 M620.6 56.6 L621.6 56.6 L622.6 56.6 L623.6 56.6 L624.6 56.6 M624.6 56.6 L625.6 56.6 L626.6 56.6 M627.6 56.6 L628.6 56.6 L629.6 56.6 L630.6 56.6 M630.6 56.6 L631.6 56.6 L632.6 56.6 L633.6 56.6 L634.6 56.6 M634.6 56.6 L635.6 56.6 M635.6 56.6 L636.6 56.6 L637.6 56.6 L638.6 56.6 M638.6 56.6 L639.6 56.6 M639.6 56.6 L640.6 56.6 L641.6 56.6 L642.6 56.6 L643.6 56.6 M643.6 56.6 L644.6 56.6 L645.6 56.6 M645.6 56.6 L646.6 56.6 M646.6 56.6 L647.6 56.6 L648.6 56.6 M650.6 56.6 L651.6 56.6 L652.6 56.6 M652.6 56.6 L653.6 56.6 L654.6 56.6 L655.6 56.6 M655.6 56.6 L656.6 56.6 L657.6 56.6 M658.6 56.6 L659.6 56.6 L660.6 56.6 L661.6 56.6 L662.6 56.6 M662.6 56.6 L663.6 56.6 M663.6 56.6 L664.6 56.6 L665.6 56.6 L666.6 56.6 M666.6 56.6 L667.6 56.6 L668.6 56.6 M668.6 56.6 L669.6 56.6 L670.6 56.6 L671.6 56.6 M671.6 56.6 L672.6 56.6 L673.6 56.6 M673.6 56.6 L674.6 56.6 L675.6 56.6 M675.6 56.6 L676.6 56.6 L677.6 56.6 M677.6 56.6 L678.6 56.6 L679.6 56.6 M679.6 56.6 L680.6 56.6 L681.6 56.6 L682.6 56.6 M547.6 61.2 L548.6 61.2 M548.6 61.2 L549.6 61.2 L550.6 61.2 L551.6 61.2 M551.6 61.2 L552.6 61.2 L553.6 61.2 M553.6 61.2 L554.6 61.2 M554.6 61.2 L555.6 61.2 L556.6 61.2 L557.6 61.2 L558.6 61.2 M559.6 61.2 L560.6 61.2 L561.6 61.2 M561.6 61.2 L562.6 61.2 L563.6 61.2 L564.6 61.2 M572.6 61.2 L573.6 61.2 M578.6 61.2 L579.6 61.2 L580.6 61.2 L581.6 61.2 M581.6 61.2 L582.6 61.2 M582.6 61.2 L583.6 61.2 L584.6 61.2 L585.6 61.2 M585.6 61.2 L586.6 61.2 L587.6 61.2 L588.6 61.2 L589.6 61.2 M589.6 61.2 L590.6 61.2 L591.6 61.2 L592.6 61.2 M592.6 61.2 L593.6 61.2 L594.6 61.2 L595.6 61.2 L596.6 61.2 M596.6 61.2 L597.6 61.2 L598.6 61.2 L599.6 61.2 L600.6 61.2 M600.6 61.2 L601.6 61.2 L602.6 61.2 M602.6 61.2 L603.6 61.2 L604.6 61.2 M613.6 61.2 L614.6 61.2 L615.6 61.2 M615.6 61.2 L616.6 61.2 L617.6 61.2 M617.6 61.2 L618.6 61.2 L619.6 61.2 M623.6 61.2 L624.6 61.2 M624.6 61.2 L625.6 61.2 L626.6 61.2 L627.6 61.2 M627.6 61.2 L628.6 61.2 L629.6 61.2 L630.6 61.2 L631.6 61.2 M635.6 61.2 L636.6 61.2 L637.6 61.2 L638.6 61.2 L639.6 61.2 M639.6 61.2 L640.6 61.2 L641.6 61.2 L642.6 61.2 M642.6 61.2 L643.6 61.2 L644.6 61.2 L645.6 61.2 M645.6 61.2 L646.6 61.2 L647.6 61.2 L648.6 61.2 M648.6 61.2 L649.6 61.2 M653.6 61.2 L654.6 61.2 M659.6 61.2 L660.6 61.2 L661.6 61.2 L662.6 61.2 L663.6 61.2 M663.6 61.2 L664.6 61.2 M665.6 61.2 L666.6 61.2 L667.6 61.2 L668.6 61.2 L669.6 61.2 M669.6 61.2 L670.6 61.2 M670.6 61.2 L671.6 61.2 L672.6 61.2 M672.6 61.2 L673.6 61.2 M673.6 61.2 L674.6 61.2 L675.6 61.2 M675.6 61.2 L676.6 61.2 L677.6 61.2 L678.6 61.2 M678.6 61.2 L679.6 61.2 M679.6 61.2 L680.6 61.2 L681.6 61.2 M681.6 61.2 L682.6 61.2" stroke="#17367c" stroke-width="1.25" fill="none" opacity="0.95"/>
<path d="M548.6 56.8 l0.0 -1.9 M549.6 56.8 l0.0 -1.5 M552.6 56.8 l0.0 -1.4 M553.6 61.0 l-0.0 1.1 M559.6 61.0 l-0.0 1.4 M575.6 61.0 l-0.0 1.0 M580.6 56.8 l0.0 -1.6 M581.6 61.0 l-0.0 1.1 M588.6 56.8 l0.0 -0.9 M603.6 61.0 l-0.0 2.2 M606.6 61.0 l-0.0 1.6 M607.6 56.8 l0.0 -1.6 M625.6 61.0 l-0.0 1.1 M629.6 61.0 l-0.0 1.0 M636.6 56.8 l0.0 -1.0 M637.6 61.0 l-0.0 1.5 M638.6 61.0 l-0.0 2.1 M647.6 56.8 l0.0 -1.7 M658.6 56.8 l0.0 -0.8 M681.6 61.0 l-0.0 2.0" stroke="#17367c" stroke-width="0.9" fill="none" opacity="0.8"/>
<polyline points="51.0,195.5 52.0,195.5 53.0,195.5 54.0,195.5 55.0,195.5 56.0,195.5 57.0,195.5 58.0,195.5 59.0,195.5 60.0,195.5 61.0,195.5 62.0,195.5 63.0,195.5 64.0,195.5 65.0,195.5 66.0,195.5 67.0,195.5 68.1,195.5 69.1,195.5 70.1,195.5 71.1,195.5 72.1,195.5 73.1,195.5 74.1,195.5 75.1,195.5 76.1,195.5 77.1,195.5 78.1,195.5 79.1,195.5 80.1,195.5 81.1,195.5 82.1,195.5 83.1,195.5 84.1,195.5 85.1,195.5 86.1,195.5 87.1,195.5 88.1,195.5 89.1,195.5 90.1,195.5 91.1,195.5 92.1,195.5 93.1,195.5 94.1,195.5 95.1,195.5 96.1,195.5 97.1,195.5 98.1,195.5 99.1,195.5 100.2,195.5 101.2,195.5 102.2,195.5 103.2,195.5 104.2,195.5 105.2,195.5 106.2,195.5 107.2,195.5 108.2,195.5 109.2,195.5 110.2,195.5 111.2,195.5 112.2,195.5 113.2,195.5 114.2,195.5 115.2,195.5 116.2,195.5 117.2,195.5 118.2,195.5 119.2,195.5 120.2,195.5 121.2,195.5 122.2,195.5 123.2,195.5 124.2,195.5 125.2,195.5 126.2,195.5 127.2,195.5 128.2,195.5 129.2,195.5 130.2,195.5 131.2,195.5 132.3,195.5 133.3,195.5 134.3,195.5 135.3,195.5 136.3,195.5 137.3,195.5 138.3,195.5 139.3,195.5 140.3,195.5 141.3,195.5 142.3,195.5 143.3,195.5 144.3,195.5 145.3,195.5 146.3,195.5 147.3,195.5 148.3,195.5 149.3,195.5 150.3,195.5 151.3,195.5 152.3,195.5 153.3,195.5 154.3,195.5 155.3,195.5 156.3,195.5 157.3,195.5 158.3,195.5 159.3,195.5 160.3,195.5 161.3,195.5 162.3,195.5 163.3,195.5 164.4,195.5 165.4,195.5 166.4,195.5 167.4,195.5 168.4,195.5 169.4,195.5 170.4,195.5 171.4,195.5 172.4,195.5 173.4,195.5 174.4,195.5 175.4,195.5 176.4,195.5 177.4,195.5 178.4,195.5 179.4,195.5 180.4,195.5" fill="none" stroke="#1cb2ee" stroke-width="5.2" stroke-linejoin="round"/>
<path d="M51.0 193.3 L52.0 193.3 L53.0 193.3 M54.0 193.3 L55.0 193.3 L56.0 193.3 M58.0 193.3 L59.0 193.3 M59.0 193.3 L60.0 193.3 L61.0 193.3 M61.0 193.3 L62.0 193.3 L63.0 193.3 M63.0 193.3 L64.0 193.3 L65.0 193.3 M65.0 193.3 L66.0 193.3 L67.0 193.3 M67.0 193.3 L68.1 193.3 L69.1 193.3 M69.1 193.3 L70.1 193.3 L71.1 193.3 M71.1 193.3 L72.1 193.3 L73.1 193.3 M73.1 193.3 L74.1 193.3 M74.1 193.3 L75.1 193.3 M75.1 193.3 L76.1 193.3 L77.1 193.3 M78.1 193.3 L79.1 193.3 L80.1 193.3 M82.1 193.3 L83.1 193.3 L84.1 193.3 M84.1 193.3 L85.1 193.3 M85.1 193.3 L86.1 193.3 L87.1 193.3 M88.1 193.3 L89.1 193.3 M89.1 193.3 L90.1 193.3 L91.1 193.3 M91.1 193.3 L92.1 193.3 L93.1 193.3 M95.1 193.3 L96.1 193.3 M96.1 193.3 L97.1 193.3 M97.1 193.3 L98.1 193.3 M98.1 193.3 L99.1 193.3 M99.1 193.3 L100.2 193.3 M106.2 193.3 L107.2 193.3 M107.2 193.3 L108.2 193.3 M110.2 193.3 L111.2 193.3 M111.2 193.3 L112.2 193.3 L113.2 193.3 M113.2 193.3 L114.2 193.3 M114.2 193.3 L115.2 193.3 M115.2 193.3 L116.2 193.3 M120.2 193.3 L121.2 193.3 M121.2 193.3 L122.2 193.3 L123.2 193.3 M123.2 193.3 L124.2 193.3 M124.2 193.3 L125.2 193.3 M126.2 193.3 L127.2 193.3 M127.2 193.3 L128.2 193.3 L129.2 193.3 M129.2 193.3 L130.2 193.3 M130.2 193.3 L131.2 193.3 L132.3 193.3 M132.3 193.3 L133.3 193.3 M133.3 193.3 L134.3 193.3 M134.3 193.3 L135.3 193.3 M135.3 193.3 L136.3 193.3 M136.3 193.3 L137.3 193.3 L138.3 193.3 M142.3 193.3 L143.3 193.3 M143.3 193.3 L144.3 193.3 L145.3 193.3 M145.3 193.3 L146.3 193.3 M148.3 193.3 L149.3 193.3 L150.3 193.3 M150.3 193.3 L151.3 193.3 M151.3 193.3 L152.3 193.3 M152.3 193.3 L153.3 193.3 M153.3 193.3 L154.3 193.3 L155.3 193.3 M155.3 193.3 L156.3 193.3 L157.3 193.3 M157.3 193.3 L158.3 193.3 L159.3 193.3 M162.3 193.3 L163.3 193.3 L164.4 193.3 M164.4 193.3 L165.4 193.3 L166.4 193.3 M166.4 193.3 L167.4 193.3 L168.4 193.3 M168.4 193.3 L169.4 193.3 L170.4 193.3 M170.4 193.3 L171.4 193.3 M171.4 193.3 L172.4 193.3 M172.4 193.3 L173.4 193.3 M173.4 193.3 L174.4 193.3 L175.4 193.3 M175.4 193.3 L176.4 193.3 M178.4 193.3 L179.4 193.3 M179.4 193.3 L180.4 193.3 M51.0 197.7 L52.0 197.7 L53.0 197.7 M53.0 197.7 L54.0 197.7 M66.0 197.7 L67.0 197.7 M71.1 197.7 L72.1 197.7 L73.1 197.7 M73.1 197.7 L74.1 197.7 M77.1 197.7 L78.1 197.7 M78.1 197.7 L79.1 197.7 M81.1 197.7 L82.1 197.7 L83.1 197.7 M83.1 197.7 L84.1 197.7 L85.1 197.7 M85.1 197.7 L86.1 197.7 L87.1 197.7 M87.1 197.7 L88.1 197.7 L89.1 197.7 M94.1 197.7 L95.1 197.7 M98.1 197.7 L99.1 197.7 L100.2 197.7 M100.2 197.7 L101.2 197.7 L102.2 197.7 M102.2 197.7 L103.2 197.7 M103.2 197.7 L104.2 197.7 M107.2 197.7 L108.2 197.7 L109.2 197.7 M120.2 197.7 L121.2 197.7 M121.2 197.7 L122.2 197.7 L123.2 197.7 M128.2 197.7 L129.2 197.7 M129.2 197.7 L130.2 197.7 M138.3 197.7 L139.3 197.7 M139.3 197.7 L140.3 197.7 L141.3 197.7 M144.3 197.7 L145.3 197.7 M145.3 197.7 L146.3 197.7 L147.3 197.7 M147.3 197.7 L148.3 197.7 L149.3 197.7 M153.3 197.7 L154.3 197.7 L155.3 197.7 M159.3 197.7 L160.3 197.7 M168.4 197.7 L169.4 197.7 M169.4 197.7 L170.4 197.7 M170.4 197.7 L171.4 197.7 L172.4 197.7 M175.4 197.7 L176.4 197.7 M178.4 197.7 L179.4 197.7 L180.4 197.7" stroke="#17408c" stroke-width="1.25" fill="none" opacity="0.95"/>
<path d="M51.0 193.5 l0.0 -1.5 M64.0 197.5 l-0.0 1.8 M69.1 193.5 l0.0 -0.8 M71.1 197.5 l-0.0 1.1 M75.1 197.5 l-0.0 2.1 M78.1 197.5 l-0.0 1.3 M84.1 197.5 l-0.0 2.1 M88.1 193.5 l0.0 -1.6 M90.1 197.5 l-0.0 1.8 M92.1 193.5 l0.0 -1.1 M95.1 193.5 l0.0 -2.2 M99.1 197.5 l-0.0 2.2 M111.2 197.5 l-0.0 0.8 M121.2 197.5 l-0.0 2.3 M124.2 197.5 l-0.0 1.3 M130.2 197.5 l-0.0 1.6 M136.3 197.5 l-0.0 1.4 M142.3 193.5 l0.0 -2.3 M148.3 197.5 l-0.0 1.2 M153.3 197.5 l-0.0 2.3 M158.3 197.5 l-0.0 1.7 M161.3 197.5 l-0.0 1.6 M166.4 197.5 l-0.0 2.0 M167.4 197.5 l-0.0 0.9 M170.4 197.5 l-0.0 2.3 M172.4 193.5 l0.0 -1.5 M179.4 197.5 l-0.0 2.1" stroke="#17408c" stroke-width="0.9" fill="none" opacity="0.8"/>
<path d="M180.6 196 V238" stroke="#1cb2ee" stroke-width="1.2" fill="none"/>
<path d="M180.6 196 V238" stroke="#17408c" stroke-width="1.0" fill="none" stroke-dasharray="1.5 9 1 14 2 7" opacity="0.8"/>
<polyline points="180.4,238.2 181.4,238.2 182.4,238.2 183.4,238.2 184.4,238.2 185.4,238.2 186.4,238.2 187.4,238.2 188.4,238.2 189.4,238.2 190.4,238.2 191.4,238.2 192.4,238.2 193.4,238.2 194.4,238.2 195.4,238.2 196.4,238.2 197.4,238.2 198.4,238.2 199.4,238.2 200.4,238.2 201.4,238.2 202.4,238.2 203.4,238.2 204.4,238.2 205.4,238.2 206.4,238.2 207.4,238.2 208.4,238.2 209.5,238.2 210.5,238.2 211.5,238.2 212.5,238.2 213.5,238.2 214.5,238.2 215.5,238.2 216.5,238.2 217.5,238.2 218.5,238.2 219.5,238.2 220.5,238.2 221.5,238.2 222.5,238.2 223.5,238.2 224.5,238.2 225.5,238.2 226.5,238.2 227.5,238.2 228.5,238.2 229.5,238.2 230.5,238.2 231.5,238.2 232.5,238.2 233.5,238.2 234.5,238.2 235.5,238.2 236.5,238.2 237.5,238.2 238.5,238.2 239.5,238.2 240.5,238.2 241.5,238.2 242.5,238.2 243.5,238.2 244.5,238.2 245.5,238.2 246.5,238.2 247.5,238.2 248.5,238.2 249.5,238.2 250.5,238.2 251.5,238.2 252.5,238.2 253.5,238.2 254.5,238.2 255.5,238.2 256.5,238.2 257.5,238.2 258.5,238.2 259.5,238.2 260.5,238.2 261.5,238.2 262.5,238.2 263.5,238.2 264.5,238.2 265.5,238.2 266.5,238.2 267.6,238.2 268.6,238.2 269.6,238.2 270.6,238.2 271.6,238.2 272.6,238.2 273.6,238.2 274.6,238.2 275.6,238.2 276.6,238.2 277.6,238.2 278.6,238.2 279.6,238.2 280.6,238.2 281.6,238.2 282.6,238.2 283.6,238.2 284.6,238.2 285.6,238.2 286.6,238.2 287.6,238.2 288.6,238.2 289.6,238.2 290.6,238.2 291.6,238.2 292.6,238.2 293.6,238.2 294.6,238.2 295.6,238.2 296.6,238.2 297.6,238.2 298.6,238.2 299.6,238.2 300.6,238.2 301.6,238.2 302.6,238.2 303.6,238.2 304.6,238.2 305.6,238.2 306.6,238.2 307.6,238.2 308.6,238.2 309.6,238.2 310.6,238.2 311.6,238.2 312.6,238.2 313.6,238.2 314.6,238.2 315.6,238.2 316.6,238.2 317.6,238.2 318.6,238.2 319.6,238.2 320.6,238.2 321.6,238.2 322.6,238.2 323.6,238.2 324.6,238.2 325.7,238.2 326.7,238.2 327.7,238.2 328.7,238.2 329.7,238.2 330.7,238.2 331.7,238.2 332.7,238.2 333.7,238.2 334.7,238.2 335.7,238.2 336.7,238.2 337.7,238.2 338.7,238.2 339.7,238.2 340.7,238.2 341.7,238.2 342.7,238.2 343.7,238.2 344.7,238.2 345.7,238.2 346.7,238.2 347.7,238.2 348.7,238.2 349.7,238.2 350.7,238.2 351.7,238.2 352.7,238.2 353.7,238.2 354.7,238.2 355.7,238.2 356.7,238.2 357.7,238.2 358.7,238.2 359.7,238.2 360.7,238.2 361.7,238.2 362.7,238.2 363.7,238.2 364.7,238.2 365.7,238.2 366.7,238.2 367.7,238.2 368.7,238.2 369.7,238.2 370.7,238.2 371.7,238.2 372.7,238.2 373.7,238.2 374.7,238.2 375.7,238.2 376.7,238.2 377.7,238.2 378.7,238.2 379.7,238.2 380.7,238.2 381.7,238.2 382.7,238.2 383.8,238.2 384.8,238.2 385.8,238.2 386.8,238.2 387.8,238.2 388.8,238.2 389.8,238.2 390.8,238.2 391.8,238.2 392.8,238.2 393.8,238.2 394.8,238.2 395.8,238.2 396.8,238.2 397.8,238.2 398.8,238.2 399.8,238.2 400.8,238.2 401.8,238.2 402.8,238.2 403.8,238.2 404.8,238.2 405.8,238.2 406.8,238.2 407.8,238.2 408.8,238.2 409.8,238.2 410.8,238.2 411.8,238.2 412.8,238.2 413.8,238.2 414.8,238.2 415.8,238.2 416.8,238.2 417.8,238.2 418.8,238.2 419.8,238.2 420.8,238.2 421.8,238.2 422.8,238.2 423.8,238.2 424.8,238.2 425.8,238.2 426.8,238.2 427.8,238.2 428.8,238.2 429.8,238.2 430.8,238.2 431.8,238.2 432.8,238.2 433.8,238.2 434.8,238.2 435.8,238.2 436.8,238.2 437.8,238.2 438.8,238.2 439.8,238.2 440.8,238.2 441.9,238.2 442.9,238.2 443.9,238.2 444.9,238.2 445.9,238.2 446.9,238.2 447.9,238.2 448.9,238.2 449.9,238.2 450.9,238.2 451.9,238.2 452.9,238.2 453.9,238.2 454.9,238.2 455.9,238.2 456.9,238.2 457.9,238.2 458.9,238.2 459.9,238.2 460.9,238.2 461.9,238.2 462.9,238.2 463.9,238.2 464.9,238.2 465.9,238.2 466.9,238.2 467.9,238.2 468.9,238.2 469.9,238.2 470.9,238.2 471.9,238.2 472.9,238.2 473.9,238.2 474.9,238.2 475.9,238.2 476.9,238.2 477.9,238.2 478.9,238.2 479.9,238.2 480.9,238.2 481.9,238.2 482.9,238.2 483.9,238.2 484.9,238.2 485.9,238.2 486.9,238.2 487.9,238.2 488.9,238.2 489.9,238.2 490.9,238.2 491.9,238.2 492.9,238.2 493.9,238.2 494.9,238.2 495.9,238.2 496.9,238.2 497.9,238.2 498.9,238.2 500.0,238.2 501.0,238.2 502.0,238.2 503.0,238.2 504.0,238.2 505.0,238.2 506.0,238.2 507.0,238.2 508.0,238.2 509.0,238.2 510.0,238.2 511.0,238.2 512.0,238.2 513.0,238.2 514.0,238.2 515.0,238.2 516.0,238.2 517.0,238.2 518.0,238.2 519.0,238.2 520.0,238.2 521.0,238.2 522.0,238.2 523.0,238.2 524.0,238.2 525.0,238.2 526.0,238.2 527.0,238.2 528.0,238.2" fill="none" stroke="#1cb2ee" stroke-width="5.2" stroke-linejoin="round"/>
<path d="M181.4 236.0 L182.4 236.0 M185.4 236.0 L186.4 236.0 L187.4 236.0 M189.4 236.0 L190.4 236.0 M190.4 236.0 L191.4 236.0 M191.4 236.0 L192.4 236.0 M193.4 236.0 L194.4 236.0 L195.4 236.0 M195.4 236.0 L196.4 236.0 M197.4 236.0 L198.4 236.0 M202.4 236.0 L203.4 236.0 L204.4 236.0 M206.4 236.0 L207.4 236.0 M207.4 236.0 L208.4 236.0 M210.5 236.0 L211.5 236.0 M213.5 236.0 L214.5 236.0 M214.5 236.0 L215.5 236.0 L216.5 236.0 M216.5 236.0 L217.5 236.0 M217.5 236.0 L218.5 236.0 M218.5 236.0 L219.5 236.0 M219.5 236.0 L220.5 236.0 M222.5 236.0 L223.5 236.0 L224.5 236.0 M226.5 236.0 L227.5 236.0 L228.5 236.0 M228.5 236.0 L229.5 236.0 L230.5 236.0 M230.5 236.0 L231.5 236.0 M231.5 236.0 L232.5 236.0 M232.5 236.0 L233.5 236.0 M233.5 236.0 L234.5 236.0 L235.5 236.0 M235.5 236.0 L236.5 236.0 L237.5 236.0 M240.5 236.0 L241.5 236.0 L242.5 236.0 M242.5 236.0 L243.5 236.0 M246.5 236.0 L247.5 236.0 M251.5 236.0 L252.5 236.0 M252.5 236.0 L253.5 236.0 L254.5 236.0 M254.5 236.0 L255.5 236.0 L256.5 236.0 M256.5 236.0 L257.5 236.0 L258.5 236.0 M259.5 236.0 L260.5 236.0 L261.5 236.0 M261.5 236.0 L262.5 236.0 M262.5 236.0 L263.5 236.0 L264.5 236.0 M264.5 236.0 L265.5 236.0 L266.5 236.0 M268.6 236.0 L269.6 236.0 M269.6 236.0 L270.6 236.0 L271.6 236.0 M271.6 236.0 L272.6 236.0 L273.6 236.0 M273.6 236.0 L274.6 236.0 M274.6 236.0 L275.6 236.0 M275.6 236.0 L276.6 236.0 L277.6 236.0 M277.6 236.0 L278.6 236.0 L279.6 236.0 M287.6 236.0 L288.6 236.0 L289.6 236.0 M289.6 236.0 L290.6 236.0 M290.6 236.0 L291.6 236.0 L292.6 236.0 M294.6 236.0 L295.6 236.0 M296.6 236.0 L297.6 236.0 M299.6 236.0 L300.6 236.0 M300.6 236.0 L301.6 236.0 M301.6 236.0 L302.6 236.0 M304.6 236.0 L305.6 236.0 M305.6 236.0 L306.6 236.0 L307.6 236.0 M307.6 236.0 L308.6 236.0 L309.6 236.0 M311.6 236.0 L312.6 236.0 M314.6 236.0 L315.6 236.0 L316.6 236.0 M319.6 236.0 L320.6 236.0 L321.6 236.0 M321.6 236.0 L322.6 236.0 L323.6 236.0 M323.6 236.0 L324.6 236.0 M324.6 236.0 L325.7 236.0 M325.7 236.0 L326.7 236.0 M326.7 236.0 L327.7 236.0 L328.7 236.0 M328.7 236.0 L329.7 236.0 M329.7 236.0 L330.7 236.0 L331.7 236.0 M335.7 236.0 L336.7 236.0 L337.7 236.0 M337.7 236.0 L338.7 236.0 L339.7 236.0 M339.7 236.0 L340.7 236.0 L341.7 236.0 M341.7 236.0 L342.7 236.0 L343.7 236.0 M343.7 236.0 L344.7 236.0 M344.7 236.0 L345.7 236.0 M345.7 236.0 L346.7 236.0 L347.7 236.0 M347.7 236.0 L348.7 236.0 M349.7 236.0 L350.7 236.0 M350.7 236.0 L351.7 236.0 M351.7 236.0 L352.7 236.0 M355.7 236.0 L356.7 236.0 M358.7 236.0 L359.7 236.0 M359.7 236.0 L360.7 236.0 L361.7 236.0 M363.7 236.0 L364.7 236.0 L365.7 236.0 M367.7 236.0 L368.7 236.0 M368.7 236.0 L369.7 236.0 M369.7 236.0 L370.7 236.0 L371.7 236.0 M371.7 236.0 L372.7 236.0 L373.7 236.0 M373.7 236.0 L374.7 236.0 L375.7 236.0 M377.7 236.0 L378.7 236.0 M378.7 236.0 L379.7 236.0 M379.7 236.0 L380.7 236.0 L381.7 236.0 M381.7 236.0 L382.7 236.0 L383.8 236.0 M383.8 236.0 L384.8 236.0 L385.8 236.0 M387.8 236.0 L388.8 236.0 L389.8 236.0 M389.8 236.0 L390.8 236.0 M393.8 236.0 L394.8 236.0 L395.8 236.0 M395.8 236.0 L396.8 236.0 M396.8 236.0 L397.8 236.0 M397.8 236.0 L398.8 236.0 L399.8 236.0 M401.8 236.0 L402.8 236.0 L403.8 236.0 M403.8 236.0 L404.8 236.0 L405.8 236.0 M406.8 236.0 L407.8 236.0 L408.8 236.0 M408.8 236.0 L409.8 236.0 M409.8 236.0 L410.8 236.0 M410.8 236.0 L411.8 236.0 L412.8 236.0 M412.8 236.0 L413.8 236.0 L414.8 236.0 M414.8 236.0 L415.8 236.0 M415.8 236.0 L416.8 236.0 L417.8 236.0 M417.8 236.0 L418.8 236.0 L419.8 236.0 M421.8 236.0 L422.8 236.0 M423.8 236.0 L424.8 236.0 M424.8 236.0 L425.8 236.0 M427.8 236.0 L428.8 236.0 L429.8 236.0 M429.8 236.0 L430.8 236.0 M432.8 236.0 L433.8 236.0 L434.8 236.0 M434.8 236.0 L435.8 236.0 M435.8 236.0 L436.8 236.0 M436.8 236.0 L437.8 236.0 M439.8 236.0 L440.8 236.0 M444.9 236.0 L445.9 236.0 M446.9 236.0 L447.9 236.0 M449.9 236.0 L450.9 236.0 L451.9 236.0 M451.9 236.0 L452.9 236.0 L453.9 236.0 M453.9 236.0 L454.9 236.0 L455.9 236.0 M455.9 236.0 L456.9 236.0 L457.9 236.0 M457.9 236.0 L458.9 236.0 L459.9 236.0 M459.9 236.0 L460.9 236.0 L461.9 236.0 M467.9 236.0 L468.9 236.0 M468.9 236.0 L469.9 236.0 L470.9 236.0 M472.9 236.0 L473.9 236.0 M475.9 236.0 L476.9 236.0 M476.9 236.0 L477.9 236.0 L478.9 236.0 M478.9 236.0 L479.9 236.0 L480.9 236.0 M480.9 236.0 L481.9 236.0 L482.9 236.0 M482.9 236.0 L483.9 236.0 M483.9 236.0 L484.9 236.0 L485.9 236.0 M485.9 236.0 L486.9 236.0 L487.9 236.0 M487.9 236.0 L488.9 236.0 L489.9 236.0 M489.9 236.0 L490.9 236.0 M490.9 236.0 L491.9 236.0 L492.9 236.0 M492.9 236.0 L493.9 236.0 L494.9 236.0 M495.9 236.0 L496.9 236.0 L497.9 236.0 M500.0 236.0 L501.0 236.0 L502.0 236.0 M502.0 236.0 L503.0 236.0 L504.0 236.0 M504.0 236.0 L505.0 236.0 M505.0 236.0 L506.0 236.0 L507.0 236.0 M508.0 236.0 L509.0 236.0 M510.0 236.0 L511.0 236.0 L512.0 236.0 M512.0 236.0 L513.0 236.0 M515.0 236.0 L516.0 236.0 L517.0 236.0 M518.0 236.0 L519.0 236.0 L520.0 236.0 M520.0 236.0 L521.0 236.0 L522.0 236.0 M522.0 236.0 L523.0 236.0 L524.0 236.0 M524.0 236.0 L525.0 236.0 M527.0 236.0 L528.0 236.0 M183.4 240.3 L184.4 240.3 M184.4 240.3 L185.4 240.3 M188.4 240.3 L189.4 240.3 L190.4 240.3 M190.4 240.3 L191.4 240.3 M191.4 240.3 L192.4 240.3 L193.4 240.3 M193.4 240.3 L194.4 240.3 M196.4 240.3 L197.4 240.3 L198.4 240.3 M198.4 240.3 L199.4 240.3 L200.4 240.3 M202.4 240.3 L203.4 240.3 M207.4 240.3 L208.4 240.3 L209.5 240.3 M214.5 240.3 L215.5 240.3 L216.5 240.3 M220.5 240.3 L221.5 240.3 L222.5 240.3 M222.5 240.3 L223.5 240.3 M223.5 240.3 L224.5 240.3 M224.5 240.3 L225.5 240.3 L226.5 240.3 M228.5 240.3 L229.5 240.3 M233.5 240.3 L234.5 240.3 L235.5 240.3 M236.5 240.3 L237.5 240.3 L238.5 240.3 M245.5 240.3 L246.5 240.3 M247.5 240.3 L248.5 240.3 M258.5 240.3 L259.5 240.3 M260.5 240.3 L261.5 240.3 M263.5 240.3 L264.5 240.3 M270.6 240.3 L271.6 240.3 L272.6 240.3 M274.6 240.3 L275.6 240.3 L276.6 240.3 M276.6 240.3 L277.6 240.3 M281.6 240.3 L282.6 240.3 M282.6 240.3 L283.6 240.3 L284.6 240.3 M288.6 240.3 L289.6 240.3 L290.6 240.3 M291.6 240.3 L292.6 240.3 L293.6 240.3 M296.6 240.3 L297.6 240.3 L298.6 240.3 M298.6 240.3 L299.6 240.3 M301.6 240.3 L302.6 240.3 M303.6 240.3 L304.6 240.3 L305.6 240.3 M308.6 240.3 L309.6 240.3 M310.6 240.3 L311.6 240.3 L312.6 240.3 M313.6 240.3 L314.6 240.3 L315.6 240.3 M320.6 240.3 L321.6 240.3 M321.6 240.3 L322.6 240.3 L323.6 240.3 M326.7 240.3 L327.7 240.3 M327.7 240.3 L328.7 240.3 L329.7 240.3 M329.7 240.3 L330.7 240.3 M330.7 240.3 L331.7 240.3 M331.7 240.3 L332.7 240.3 M334.7 240.3 L335.7 240.3 M336.7 240.3 L337.7 240.3 L338.7 240.3 M338.7 240.3 L339.7 240.3 L340.7 240.3 M340.7 240.3 L341.7 240.3 L342.7 240.3 M343.7 240.3 L344.7 240.3 M344.7 240.3 L345.7 240.3 L346.7 240.3 M348.7 240.3 L349.7 240.3 M351.7 240.3 L352.7 240.3 M352.7 240.3 L353.7 240.3 L354.7 240.3 M355.7 240.3 L356.7 240.3 L357.7 240.3 M358.7 240.3 L359.7 240.3 L360.7 240.3 M361.7 240.3 L362.7 240.3 M364.7 240.3 L365.7 240.3 M365.7 240.3 L366.7 240.3 L367.7 240.3 M369.7 240.3 L370.7 240.3 L371.7 240.3 M374.7 240.3 L375.7 240.3 M377.7 240.3 L378.7 240.3 L379.7 240.3 M379.7 240.3 L380.7 240.3 M380.7 240.3 L381.7 240.3 M381.7 240.3 L382.7 240.3 L383.8 240.3 M383.8 240.3 L384.8 240.3 L385.8 240.3 M385.8 240.3 L386.8 240.3 M386.8 240.3 L387.8 240.3 L388.8 240.3 M388.8 240.3 L389.8 240.3 M389.8 240.3 L390.8 240.3 M398.8 240.3 L399.8 240.3 M401.8 240.3 L402.8 240.3 M402.8 240.3 L403.8 240.3 M405.8 240.3 L406.8 240.3 L407.8 240.3 M407.8 240.3 L408.8 240.3 M408.8 240.3 L409.8 240.3 M409.8 240.3 L410.8 240.3 M412.8 240.3 L413.8 240.3 M414.8 240.3 L415.8 240.3 L416.8 240.3 M418.8 240.3 L419.8 240.3 M421.8 240.3 L422.8 240.3 M422.8 240.3 L423.8 240.3 M423.8 240.3 L424.8 240.3 M426.8 240.3 L427.8 240.3 M429.8 240.3 L430.8 240.3 L431.8 240.3 M433.8 240.3 L434.8 240.3 M435.8 240.3 L436.8 240.3 L437.8 240.3 M441.9 240.3 L442.9 240.3 L443.9 240.3 M450.9 240.3 L451.9 240.3 M453.9 240.3 L454.9 240.3 M458.9 240.3 L459.9 240.3 M470.9 240.3 L471.9 240.3 M478.9 240.3 L479.9 240.3 M481.9 240.3 L482.9 240.3 L483.9 240.3 M483.9 240.3 L484.9 240.3 L485.9 240.3 M487.9 240.3 L488.9 240.3 M488.9 240.3 L489.9 240.3 M489.9 240.3 L490.9 240.3 M492.9 240.3 L493.9 240.3 L494.9 240.3 M496.9 240.3 L497.9 240.3 L498.9 240.3 M502.0 240.3 L503.0 240.3 M503.0 240.3 L504.0 240.3 M504.0 240.3 L505.0 240.3 M509.0 240.3 L510.0 240.3 L511.0 240.3 M516.0 240.3 L517.0 240.3 L518.0 240.3 M523.0 240.3 L524.0 240.3 M525.0 240.3 L526.0 240.3 L527.0 240.3" stroke="#17408c" stroke-width="1.25" fill="none" opacity="0.95"/>
<path d="M181.4 240.2 l-0.0 1.6 M182.4 240.2 l-0.0 1.0 M185.4 240.2 l-0.0 1.1 M191.4 240.2 l-0.0 2.4 M200.4 240.2 l-0.0 1.6 M201.4 240.2 l-0.0 1.4 M202.4 240.2 l-0.0 2.1 M203.4 240.2 l-0.0 2.0 M204.4 240.2 l-0.0 2.3 M221.5 240.2 l-0.0 1.5 M226.5 240.2 l-0.0 1.6 M238.5 240.2 l-0.0 1.7 M243.5 240.2 l-0.0 1.0 M249.5 236.2 l0.0 -2.3 M260.5 236.2 l0.0 -1.7 M264.5 240.2 l-0.0 1.9 M266.5 236.2 l0.0 -2.2 M275.6 240.2 l-0.0 2.2 M277.6 240.2 l-0.0 2.2 M282.6 240.2 l-0.0 2.2 M295.6 236.2 l0.0 -1.9 M296.6 240.2 l-0.0 1.1 M304.6 240.2 l-0.0 2.1 M305.6 236.2 l0.0 -1.3 M317.6 240.2 l-0.0 1.2 M321.6 236.2 l0.0 -1.4 M331.7 240.2 l-0.0 1.7 M336.7 240.2 l-0.0 1.1 M339.7 240.2 l-0.0 2.2 M340.7 236.2 l0.0 -2.1 M348.7 240.2 l-0.0 2.0 M350.7 236.2 l0.0 -1.5 M360.7 240.2 l-0.0 1.1 M365.7 236.2 l0.0 -2.2 M369.7 240.2 l-0.0 2.1 M372.7 236.2 l0.0 -1.6 M378.7 240.2 l-0.0 2.3 M385.8 236.2 l0.0 -1.0 M388.8 236.2 l0.0 -1.5 M389.8 240.2 l-0.0 1.7 M390.8 240.2 l-0.0 1.3 M395.8 236.2 l0.0 -2.2 M397.8 240.2 l-0.0 2.2 M408.8 240.2 l-0.0 1.9 M414.8 240.2 l-0.0 1.8 M415.8 236.2 l0.0 -2.1 M417.8 240.2 l-0.0 2.1 M421.8 236.2 l0.0 -2.3 M423.8 240.2 l-0.0 0.9 M432.8 236.2 l0.0 -1.6 M436.8 236.2 l0.0 -2.1 M437.8 240.2 l-0.0 1.3 M442.9 236.2 l0.0 -1.7 M448.9 236.2 l0.0 -1.9 M454.9 240.2 l-0.0 2.1 M456.9 240.2 l-0.0 2.0 M460.9 240.2 l-0.0 1.4 M461.9 240.2 l-0.0 1.2 M464.9 240.2 l-0.0 1.3 M466.9 240.2 l-0.0 1.7 M468.9 236.2 l0.0 -0.9 M469.9 240.2 l-0.0 2.0 M478.9 236.2 l0.0 -2.1 M480.9 240.2 l-0.0 1.0 M483.9 240.2 l-0.0 2.3 M490.9 240.2 l-0.0 1.1 M500.0 240.2 l-0.0 0.8 M510.0 240.2 l-0.0 1.5 M512.0 236.2 l0.0 -2.3 M513.0 240.2 l-0.0 0.9 M527.0 236.2 l0.0 -1.8" stroke="#17408c" stroke-width="0.9" fill="none" opacity="0.8"/>
<polyline points="527.8,238.0 528.5,236.4 529.2,234.9 530.0,233.3 530.7,231.7 531.4,230.1 532.1,228.6 532.9,227.0 533.6,225.4 534.3,223.8 535.0,222.3 535.7,220.7 536.5,219.1 537.2,217.5 537.9,216.0 538.6,214.4 539.4,212.8 540.1,211.2 540.8,209.7 541.5,208.1 542.2,206.5 543.0,204.9 543.7,203.4 544.4,201.8 545.1,200.2 545.9,198.6 546.6,197.1 547.3,195.5" fill="none" stroke="#1cb2ee" stroke-width="2.8" stroke-linejoin="round"/>
<path d="M532.0 226.6 L532.7 225.0 M536.3 217.1 L537.0 215.6 L537.8 214.0 L538.5 212.4 M528.7 238.4 L529.4 236.8 L530.1 235.2 L530.8 233.7 L531.6 232.1 M531.6 232.1 L532.3 230.5 M532.3 230.5 L533.0 229.0 L533.7 227.4 L534.4 225.8 L535.2 224.2 M535.2 224.2 L535.9 222.7 L536.6 221.1 M537.3 219.5 L538.1 217.9 L538.8 216.4 L539.5 214.8 L540.2 213.2 M540.2 213.2 L540.9 211.6 L541.7 210.1 M541.7 210.1 L542.4 208.5 L543.1 206.9 M544.6 203.8 L545.3 202.2 L546.0 200.6 L546.7 199.0" stroke="#17408c" stroke-width="1.25" fill="none" opacity="0.95"/>
<path d="M536.5 217.2 l-0.8 -0.4 M548.0 195.8 l0.7 0.3" stroke="#17408c" stroke-width="0.9" fill="none" opacity="0.8"/>
<polyline points="547.2,195.5 548.2,195.5 549.2,195.5 550.2,195.5 551.2,195.5 552.2,195.5 553.2,195.5 554.2,195.5 555.2,195.5 556.2,195.5 557.2,195.5 558.2,195.5 559.2,195.5 560.2,195.5 561.3,195.5 562.3,195.5 563.3,195.5 564.3,195.5 565.3,195.5 566.3,195.5 567.3,195.5 568.3,195.5 569.3,195.5 570.3,195.5 571.3,195.5 572.3,195.5 573.3,195.5 574.3,195.5 575.3,195.5 576.3,195.5 577.3,195.5 578.3,195.5 579.3,195.5 580.3,195.5 581.3,195.5 582.3,195.5 583.3,195.5 584.3,195.5 585.3,195.5 586.3,195.5 587.3,195.5 588.4,195.5 589.4,195.5 590.4,195.5 591.4,195.5 592.4,195.5 593.4,195.5 594.4,195.5 595.4,195.5 596.4,195.5 597.4,195.5 598.4,195.5 599.4,195.5 600.4,195.5 601.4,195.5 602.4,195.5 603.4,195.5 604.4,195.5 605.4,195.5 606.4,195.5 607.4,195.5 608.4,195.5 609.4,195.5 610.4,195.5 611.4,195.5 612.4,195.5 613.4,195.5 614.5,195.5 615.5,195.5 616.5,195.5 617.5,195.5 618.5,195.5 619.5,195.5 620.5,195.5 621.5,195.5 622.5,195.5 623.5,195.5 624.5,195.5 625.5,195.5 626.5,195.5 627.5,195.5 628.5,195.5 629.5,195.5 630.5,195.5 631.5,195.5 632.5,195.5 633.5,195.5 634.5,195.5 635.5,195.5 636.5,195.5 637.5,195.5 638.5,195.5 639.5,195.5 640.5,195.5 641.6,195.5 642.6,195.5 643.6,195.5 644.6,195.5 645.6,195.5 646.6,195.5 647.6,195.5 648.6,195.5 649.6,195.5 650.6,195.5 651.6,195.5 652.6,195.5 653.6,195.5 654.6,195.5 655.6,195.5 656.6,195.5 657.6,195.5 658.6,195.5 659.6,195.5 660.6,195.5 661.6,195.5 662.6,195.5 663.6,195.5 664.6,195.5 665.6,195.5 666.6,195.5 667.6,195.5 668.7,195.5 669.7,195.5 670.7,195.5 671.7,195.5 672.7,195.5 673.7,195.5 674.7,195.5 675.7,195.5 676.7,195.5 677.7,195.5 678.7,195.5 679.7,195.5 680.7,195.5 681.7,195.5" fill="none" stroke="#1cb2ee" stroke-width="5.2" stroke-linejoin="round"/>
<path d="M548.2 193.3 L549.2 193.3 L550.2 193.3 M550.2 193.3 L551.2 193.3 L552.2 193.3 M552.2 193.3 L553.2 193.3 M555.2 193.3 L556.2 193.3 M556.2 193.3 L557.2 193.3 L558.2 193.3 M558.2 193.3 L559.2 193.3 M559.2 193.3 L560.2 193.3 L561.3 193.3 M561.3 193.3 L562.3 193.3 M563.3 193.3 L564.3 193.3 L565.3 193.3 M565.3 193.3 L566.3 193.3 M566.3 193.3 L567.3 193.3 L568.3 193.3 M568.3 193.3 L569.3 193.3 L570.3 193.3 M570.3 193.3 L571.3 193.3 L572.3 193.3 M572.3 193.3 L573.3 193.3 M575.3 193.3 L576.3 193.3 L577.3 193.3 M577.3 193.3 L578.3 193.3 L579.3 193.3 M579.3 193.3 L580.3 193.3 M580.3 193.3 L581.3 193.3 L582.3 193.3 M582.3 193.3 L583.3 193.3 M587.3 193.3 L588.4 193.3 M588.4 193.3 L589.4 193.3 L590.4 193.3 M590.4 193.3 L591.4 193.3 M591.4 193.3 L592.4 193.3 L593.4 193.3 M593.4 193.3 L594.4 193.3 L595.4 193.3 M595.4 193.3 L596.4 193.3 M596.4 193.3 L597.4 193.3 M597.4 193.3 L598.4 193.3 M599.4 193.3 L600.4 193.3 M600.4 193.3 L601.4 193.3 M603.4 193.3 L604.4 193.3 L605.4 193.3 M605.4 193.3 L606.4 193.3 M606.4 193.3 L607.4 193.3 M607.4 193.3 L608.4 193.3 M608.4 193.3 L609.4 193.3 M613.4 193.3 L614.5 193.3 L615.5 193.3 M615.5 193.3 L616.5 193.3 M616.5 193.3 L617.5 193.3 L618.5 193.3 M618.5 193.3 L619.5 193.3 L620.5 193.3 M620.5 193.3 L621.5 193.3 L622.5 193.3 M622.5 193.3 L623.5 193.3 M623.5 193.3 L624.5 193.3 M624.5 193.3 L625.5 193.3 L626.5 193.3 M626.5 193.3 L627.5 193.3 L628.5 193.3 M628.5 193.3 L629.5 193.3 L630.5 193.3 M630.5 193.3 L631.5 193.3 M631.5 193.3 L632.5 193.3 M632.5 193.3 L633.5 193.3 M633.5 193.3 L634.5 193.3 M634.5 193.3 L635.5 193.3 L636.5 193.3 M636.5 193.3 L637.5 193.3 L638.5 193.3 M638.5 193.3 L639.5 193.3 L640.5 193.3 M640.5 193.3 L641.6 193.3 M644.6 193.3 L645.6 193.3 M645.6 193.3 L646.6 193.3 M646.6 193.3 L647.6 193.3 L648.6 193.3 M655.6 193.3 L656.6 193.3 L657.6 193.3 M660.6 193.3 L661.6 193.3 L662.6 193.3 M663.6 193.3 L664.6 193.3 L665.6 193.3 M667.6 193.3 L668.7 193.3 M668.7 193.3 L669.7 193.3 L670.7 193.3 M672.7 193.3 L673.7 193.3 M673.7 193.3 L674.7 193.3 L675.7 193.3 M676.7 193.3 L677.7 193.3 L678.7 193.3 M678.7 193.3 L679.7 193.3 L680.7 193.3 M680.7 193.3 L681.7 193.3 M549.2 197.7 L550.2 197.7 L551.2 197.7 M564.3 197.7 L565.3 197.7 M565.3 197.7 L566.3 197.7 L567.3 197.7 M571.3 197.7 L572.3 197.7 M579.3 197.7 L580.3 197.7 L581.3 197.7 M581.3 197.7 L582.3 197.7 L583.3 197.7 M585.3 197.7 L586.3 197.7 M590.4 197.7 L591.4 197.7 M596.4 197.7 L597.4 197.7 M600.4 197.7 L601.4 197.7 L602.4 197.7 M604.4 197.7 L605.4 197.7 M605.4 197.7 L606.4 197.7 M606.4 197.7 L607.4 197.7 M607.4 197.7 L608.4 197.7 M611.4 197.7 L612.4 197.7 L613.4 197.7 M615.5 197.7 L616.5 197.7 L617.5 197.7 M617.5 197.7 L618.5 197.7 M618.5 197.7 L619.5 197.7 L620.5 197.7 M621.5 197.7 L622.5 197.7 L623.5 197.7 M623.5 197.7 L624.5 197.7 L625.5 197.7 M625.5 197.7 L626.5 197.7 L627.5 197.7 M628.5 197.7 L629.5 197.7 L630.5 197.7 M630.5 197.7 L631.5 197.7 M632.5 197.7 L633.5 197.7 M633.5 197.7 L634.5 197.7 M639.5 197.7 L640.5 197.7 M640.5 197.7 L641.6 197.7 M641.6 197.7 L642.6 197.7 L643.6 197.7 M647.6 197.7 L648.6 197.7 M648.6 197.7 L649.6 197.7 M649.6 197.7 L650.6 197.7 L651.6 197.7 M653.6 197.7 L654.6 197.7 M656.6 197.7 L657.6 197.7 L658.6 197.7 M658.6 197.7 L659.6 197.7 M661.6 197.7 L662.6 197.7 L663.6 197.7 M663.6 197.7 L664.6 197.7 L665.6 197.7 M665.6 197.7 L666.6 197.7 L667.6 197.7 M667.6 197.7 L668.7 197.7 M668.7 197.7 L669.7 197.7 M670.7 197.7 L671.7 197.7 M675.7 197.7 L676.7 197.7" stroke="#17408c" stroke-width="1.25" fill="none" opacity="0.95"/>
<path d="M557.2 197.5 l-0.0 0.9 M559.2 197.5 l-0.0 1.0 M563.3 197.5 l-0.0 2.0 M565.3 197.5 l-0.0 1.9 M568.3 197.5 l-0.0 1.0 M569.3 193.5 l0.0 -1.3 M581.3 197.5 l-0.0 2.3 M585.3 197.5 l-0.0 2.0 M595.4 197.5 l-0.0 1.6 M597.4 197.5 l-0.0 1.3 M598.4 197.5 l-0.0 2.2 M601.4 193.5 l0.0 -2.2 M603.4 197.5 l-0.0 1.8 M614.5 193.5 l0.0 -0.8 M622.5 197.5 l-0.0 1.1 M623.5 197.5 l-0.0 1.2 M627.5 197.5 l-0.0 1.9 M629.5 193.5 l0.0 -2.2 M631.5 197.5 l-0.0 2.2 M644.6 193.5 l0.0 -1.3 M645.6 193.5 l0.0 -1.2 M646.6 193.5 l0.0 -1.6 M647.6 197.5 l-0.0 1.8 M663.6 197.5 l-0.0 1.5 M671.7 197.5 l-0.0 0.9 M676.7 197.5 l-0.0 1.3 M679.7 197.5 l-0.0 1.8 M680.7 197.5 l-0.0 2.2" stroke="#17408c" stroke-width="0.9" fill="none" opacity="0.8"/>
<polyline points="51.0,343.5 52.0,343.5 53.0,343.5 54.0,343.5 55.0,343.5 56.0,343.5 57.0,343.5 58.0,343.5 59.0,343.5 60.0,343.5 61.0,343.5 62.0,343.5 63.0,343.5 64.0,343.5 65.0,343.5 66.0,343.5 67.0,343.5 68.0,343.5 69.0,343.5 70.0,343.5 71.0,343.5 72.0,343.5 73.0,343.5 74.0,343.5 75.0,343.5 76.0,343.5 77.0,343.5 78.0,343.5 79.0,343.5 80.0,343.5 81.0,343.5 82.0,343.5 83.0,343.5 84.1,343.5 85.1,343.5 86.1,343.5 87.1,343.5 88.1,343.5 89.1,343.5 90.1,343.5 91.1,343.5 92.1,343.5 93.1,343.5 94.1,343.5 95.1,343.5 96.1,343.5 97.1,343.5 98.1,343.5 99.1,343.5 100.1,343.5 101.1,343.5 102.1,343.5 103.1,343.5 104.1,343.5 105.1,343.5 106.1,343.5 107.1,343.5 108.1,343.5 109.1,343.5 110.1,343.5 111.1,343.5 112.1,343.5 113.1,343.5 114.1,343.5 115.1,343.5 116.1,343.5 117.1,343.5 118.1,343.5 119.1,343.5 120.1,343.5 121.1,343.5 122.1,343.5 123.1,343.5 124.1,343.5 125.1,343.5 126.1,343.5 127.1,343.5 128.1,343.5 129.1,343.5 130.1,343.5 131.1,343.5 132.1,343.5 133.1,343.5 134.1,343.5 135.1,343.5 136.1,343.5 137.1,343.5 138.1,343.5 139.1,343.5 140.1,343.5 141.1,343.5 142.1,343.5 143.1,343.5 144.1,343.5 145.1,343.5 146.1,343.5 147.1,343.5 148.1,343.5 149.2,343.5 150.2,343.5 151.2,343.5 152.2,343.5 153.2,343.5 154.2,343.5 155.2,343.5 156.2,343.5 157.2,343.5 158.2,343.5 159.2,343.5 160.2,343.5 161.2,343.5 162.2,343.5 163.2,343.5 164.2,343.5 165.2,343.5 166.2,343.5 167.2,343.5 168.2,343.5 169.2,343.5 170.2,343.5 171.2,343.5 172.2,343.5 173.2,343.5 174.2,343.5 175.2,343.5 176.2,343.5 177.2,343.5 178.2,343.5 179.2,343.5 180.2,343.5 181.2,343.5" fill="none" stroke="#13ae84" stroke-width="5.9" stroke-linejoin="round"/>
<path d="M51.0 341.0 L52.0 341.0 L53.0 341.0 L54.0 341.0 L55.0 341.0 M56.0 341.0 L57.0 341.0 L58.0 341.0 M58.0 341.0 L59.0 341.0 L60.0 341.0 L61.0 341.0 M61.0 341.0 L62.0 341.0 L63.0 341.0 M63.0 341.0 L64.0 341.0 M64.0 341.0 L65.0 341.0 L66.0 341.0 M70.0 341.0 L71.0 341.0 L72.0 341.0 M73.0 341.0 L74.0 341.0 L75.0 341.0 L76.0 341.0 M76.0 341.0 L77.0 341.0 M78.0 341.0 L79.0 341.0 L80.0 341.0 M80.0 341.0 L81.0 341.0 L82.0 341.0 M82.0 341.0 L83.0 341.0 L84.1 341.0 M88.1 341.0 L89.1 341.0 L90.1 341.0 L91.1 341.0 L92.1 341.0 M92.1 341.0 L93.1 341.0 L94.1 341.0 L95.1 341.0 M95.1 341.0 L96.1 341.0 L97.1 341.0 M97.1 341.0 L98.1 341.0 L99.1 341.0 L100.1 341.0 L101.1 341.0 M102.1 341.0 L103.1 341.0 L104.1 341.0 M104.1 341.0 L105.1 341.0 L106.1 341.0 M106.1 341.0 L107.1 341.0 L108.1 341.0 M108.1 341.0 L109.1 341.0 L110.1 341.0 M114.1 341.0 L115.1 341.0 M115.1 341.0 L116.1 341.0 L117.1 341.0 M121.1 341.0 L122.1 341.0 M122.1 341.0 L123.1 341.0 M124.1 341.0 L125.1 341.0 L126.1 341.0 L127.1 341.0 L128.1 341.0 M128.1 341.0 L129.1 341.0 L130.1 341.0 L131.1 341.0 L132.1 341.0 M134.1 341.0 L135.1 341.0 L136.1 341.0 L137.1 341.0 M139.1 341.0 L140.1 341.0 L141.1 341.0 M141.1 341.0 L142.1 341.0 L143.1 341.0 L144.1 341.0 L145.1 341.0 M145.1 341.0 L146.1 341.0 L147.1 341.0 L148.1 341.0 L149.2 341.0 M149.2 341.0 L150.2 341.0 L151.2 341.0 M151.2 341.0 L152.2 341.0 L153.2 341.0 L154.2 341.0 L155.2 341.0 M155.2 341.0 L156.2 341.0 L157.2 341.0 M157.2 341.0 L158.2 341.0 M158.2 341.0 L159.2 341.0 L160.2 341.0 M160.2 341.0 L161.2 341.0 L162.2 341.0 L163.2 341.0 L164.2 341.0 M164.2 341.0 L165.2 341.0 L166.2 341.0 L167.2 341.0 L168.2 341.0 M168.2 341.0 L169.2 341.0 L170.2 341.0 L171.2 341.0 M171.2 341.0 L172.2 341.0 L173.2 341.0 M173.2 341.0 L174.2 341.0 L175.2 341.0 M175.2 341.0 L176.2 341.0 L177.2 341.0 M51.0 346.0 L52.0 346.0 L53.0 346.0 L54.0 346.0 L55.0 346.0 M55.0 346.0 L56.0 346.0 L57.0 346.0 L58.0 346.0 L59.0 346.0 M67.0 346.0 L68.0 346.0 M76.0 346.0 L77.0 346.0 L78.0 346.0 L79.0 346.0 M86.1 346.0 L87.1 346.0 L88.1 346.0 M94.1 346.0 L95.1 346.0 L96.1 346.0 L97.1 346.0 M105.1 346.0 L106.1 346.0 M109.1 346.0 L110.1 346.0 L111.1 346.0 L112.1 346.0 L113.1 346.0 M116.1 346.0 L117.1 346.0 L118.1 346.0 L119.1 346.0 M119.1 346.0 L120.1 346.0 L121.1 346.0 L122.1 346.0 L123.1 346.0 M123.1 346.0 L124.1 346.0 M124.1 346.0 L125.1 346.0 L126.1 346.0 L127.1 346.0 M127.1 346.0 L128.1 346.0 L129.1 346.0 L130.1 346.0 L131.1 346.0 M131.1 346.0 L132.1 346.0 L133.1 346.0 L134.1 346.0 L135.1 346.0 M135.1 346.0 L136.1 346.0 L137.1 346.0 M137.1 346.0 L138.1 346.0 L139.1 346.0 M139.1 346.0 L140.1 346.0 L141.1 346.0 M141.1 346.0 L142.1 346.0 L143.1 346.0 L144.1 346.0 L145.1 346.0 M149.2 346.0 L150.2 346.0 L151.2 346.0 M161.2 346.0 L162.2 346.0 L163.2 346.0 L164.2 346.0 M164.2 346.0 L165.2 346.0 M165.2 346.0 L166.2 346.0 M166.2 346.0 L167.2 346.0 L168.2 346.0 M168.2 346.0 L169.2 346.0 L170.2 346.0 M174.2 346.0 L175.2 346.0 L176.2 346.0 L177.2 346.0 L178.2 346.0 M178.2 346.0 L179.2 346.0 L180.2 346.0 L181.2 346.0" stroke="#0b3f35" stroke-width="1.25" fill="none" opacity="0.95"/>
<path d="M60.0 345.9 l-0.0 1.5 M65.0 345.9 l-0.0 1.9 M73.0 341.1 l0.0 -1.6 M97.1 345.9 l-0.0 1.6 M107.1 341.1 l0.0 -1.0 M114.1 341.1 l0.0 -0.9 M116.1 345.9 l-0.0 1.3 M121.1 345.9 l-0.0 1.8 M123.1 345.9 l-0.0 1.1 M137.1 345.9 l-0.0 1.8 M150.2 341.1 l0.0 -1.8 M152.2 345.9 l-0.0 1.5 M154.2 345.9 l-0.0 1.2 M157.2 341.1 l0.0 -1.6 M166.2 341.1 l0.0 -1.9 M174.2 345.9 l-0.0 1.8" stroke="#0b3f35" stroke-width="0.9" fill="none" opacity="0.8"/>
<path d="M181.5 341 V399.3" stroke="#0f6e58" stroke-width="1.3" fill="none"/>
<polyline points="182.0,383.0 182.8,383.7 184.0,384.3 184.9,384.4 186.0,384.4 187.0,384.2 188.0,383.7 188.9,382.9 190.0,382.0 190.9,381.2 192.0,380.3 193.0,379.4 194.0,378.6 195.0,377.7 196.0,376.9 197.4,376.2 198.2,375.9 199.2,375.6 200.2,375.3 201.4,375.1 202.5,374.8 203.8,374.5 205.0,374.3 205.9,374.1 206.8,374.0 207.8,373.8 208.8,373.7 209.8,373.5 210.9,373.4 211.9,373.2 213.0,373.1 214.0,372.9 215.0,372.8 216.0,372.7 216.9,372.5 217.9,372.4 218.8,372.3 219.8,372.2 220.7,372.1 221.7,372.0 222.8,371.9 223.8,371.8 225.0,371.7 225.9,371.6 226.9,371.6 227.8,371.5 228.8,371.4 229.8,371.4 230.9,371.3 231.9,371.2 233.0,371.2 234.1,371.1 235.3,371.1 236.5,371.0 237.7,371.0 238.9,371.0 239.8,371.0 240.8,371.0 241.7,371.0 242.7,371.0 243.8,370.9 244.8,370.9 245.8,370.9 246.9,370.9 248.0,370.9 249.1,370.9 250.1,371.0 251.2,371.0 252.3,371.0 253.4,371.1 254.4,371.1 255.5,371.2 256.5,371.2 257.5,371.3 258.6,371.4 259.6,371.5 260.7,371.6 261.8,371.8 262.9,371.9 264.0,372.1 265.0,372.3 266.1,372.4 267.2,372.6 268.2,372.8 269.2,373.0 270.3,373.1 271.2,373.3 272.2,373.5 273.2,373.7 274.1,373.8 275.0,374.0 276.2,374.2 277.3,374.4 278.4,374.6 279.4,374.8 280.3,375.0 281.2,375.2 282.2,375.4 283.1,375.6 284.1,375.9 285.2,376.1 286.3,376.3 287.5,376.5 288.4,376.7 289.3,376.8 290.3,377.0 291.3,377.2 292.4,377.4 293.4,377.6 294.5,377.8 295.6,378.0 296.6,378.1 297.7,378.3 298.8,378.5 299.9,378.7 300.9,378.8 302.0,379.0 303.0,379.1 304.0,379.3 305.0,379.4 306.1,379.5 307.1,379.6 308.1,379.7 309.1,379.8 310.1,379.9 311.1,380.0 312.0,380.1 313.0,380.1 313.9,380.2 314.9,380.2 315.9,380.2 316.9,380.3 317.9,380.3 318.9,380.3 320.0,380.3 321.0,380.3 322.0,380.3 323.0,380.3 324.1,380.3 325.1,380.2 326.2,380.2 327.3,380.2 328.4,380.1 329.4,380.1 330.5,380.0 331.6,379.9 332.6,379.9 333.7,379.8 334.7,379.7 335.7,379.7 336.6,379.6 337.5,379.5 338.7,379.4 339.8,379.2 340.9,379.1 341.9,378.9 342.9,378.8 343.8,378.6 344.7,378.4 345.7,378.2 346.7,378.0 347.7,377.8 348.8,377.6 350.0,377.4 350.9,377.2 351.9,377.0 352.8,376.8 353.8,376.6 354.8,376.4 355.8,376.2 356.8,375.9 357.8,375.7 358.9,375.5 360.0,375.3 361.0,375.0 362.1,374.8 363.3,374.6 364.4,374.4 365.5,374.2 366.7,374.0 367.6,373.9 368.6,373.7 369.6,373.6 370.6,373.4 371.6,373.3 372.7,373.1 373.7,373.0 374.8,372.9 375.8,372.7 376.9,372.6 378.0,372.5 379.0,372.3 380.1,372.2 381.2,372.1 382.3,372.0 383.3,371.9 384.4,371.8 385.4,371.7 386.5,371.7 387.5,371.6 388.5,371.5 389.5,371.5 390.6,371.5 391.6,371.4 392.6,371.4 393.6,371.4 394.7,371.4 395.7,371.3 396.7,371.3 397.7,371.3 398.7,371.4 399.7,371.4 400.7,371.4 401.7,371.4 402.7,371.4 403.7,371.5 404.6,371.5 405.6,371.5 406.6,371.6 407.5,371.6 408.6,371.7 409.7,371.7 410.7,371.8 411.7,371.8 412.8,371.9 413.8,372.0 414.8,372.1 415.8,372.2 416.7,372.3 417.7,372.4 418.7,372.5 419.7,372.6 420.8,372.7 421.8,372.9 422.8,373.0 423.9,373.1 425.0,373.3 425.9,373.4 426.9,373.6 427.9,373.8 428.9,373.9 429.9,374.1 431.0,374.3 432.0,374.5 433.1,374.7 434.1,374.9 435.2,375.1 436.2,375.3 437.2,375.5 438.3,375.7 439.3,375.9 440.3,376.1 441.3,376.3 442.2,376.5 443.2,376.7 444.1,376.8 445.0,377.0 446.1,377.2 447.2,377.4 448.2,377.6 449.2,377.8 450.2,378.0 451.1,378.2 452.0,378.3 453.0,378.5 453.9,378.7 454.8,378.8 455.8,379.0 456.8,379.1 457.8,379.3 458.9,379.4 460.0,379.5 460.9,379.6 461.8,379.7 462.7,379.7 463.7,379.8 464.6,379.9 465.6,379.9 466.6,380.0 467.6,380.1 468.7,380.1 469.7,380.2 470.7,380.2 471.8,380.2 472.8,380.3 473.8,380.3 474.9,380.3 475.9,380.3 477.0,380.3 478.0,380.3 479.0,380.3 480.0,380.3 481.0,380.3 482.1,380.2 483.1,380.2 484.2,380.1 485.3,380.0 486.4,380.0 487.5,379.9 488.6,379.8 489.7,379.7 490.8,379.6 491.8,379.5 492.9,379.4 493.9,379.3 494.9,379.2 495.8,379.0 496.8,378.9 497.7,378.9 498.5,378.8 499.3,378.7 500.0,378.6 501.6,378.4 502.9,378.3 503.9,378.1 504.8,378.0 505.6,377.9 506.3,377.7 507.1,377.6 508.0,377.4 509.2,377.2 510.4,376.9 511.7,376.7 512.9,376.5 514.0,376.2 514.9,376.0 515.6,375.9 516.7,375.0 517.9,374.1 519.0,373.2 520.2,371.7 521.5,370.2 522.7,368.8 523.9,367.3 524.9,366.4 526.0,365.4 527.0,364.5 528.0,363.5 529.0,362.6 530.1,361.6 531.1,360.7 532.2,359.6 533.2,358.4 534.3,357.3 535.3,356.2 536.4,355.0 537.4,353.9 538.5,352.8 539.5,351.6 540.6,350.5 541.6,349.4 542.7,348.2 543.7,347.1 544.8,346.0 545.8,344.8 546.9,343.7" fill="none" stroke="#13ae84" stroke-width="6.6" stroke-linejoin="round"/>
<path d="M183.8 380.8 L184.4 381.3 M186.0 381.5 L186.4 381.3 L187.1 380.7 M190.1 378.2 L191.2 377.2 L192.2 376.4 M192.2 376.4 L193.2 375.5 M194.5 374.5 L196.2 373.6 M200.7 372.3 L201.9 372.0 M201.9 372.0 L203.2 371.8 M203.2 371.8 L204.5 371.5 L205.4 371.3 M205.4 371.3 L206.4 371.2 L207.4 371.0 M209.4 370.7 L210.5 370.5 L211.5 370.4 M211.5 370.4 L212.6 370.2 M212.6 370.2 L213.6 370.1 M213.6 370.1 L214.6 370.0 M215.6 369.8 L216.6 369.7 M217.5 369.6 L218.5 369.5 M223.6 369.0 L224.8 368.9 M224.8 368.9 L225.7 368.8 L226.7 368.7 M226.7 368.7 L227.6 368.6 L228.6 368.6 M228.6 368.6 L229.7 368.5 M231.8 368.4 L232.9 368.3 M234.0 368.3 L235.2 368.2 M235.2 368.2 L236.4 368.2 M238.9 368.2 L239.8 368.1 L240.7 368.1 M240.7 368.1 L241.7 368.1 M241.7 368.1 L242.7 368.1 L243.7 368.1 M243.7 368.1 L244.8 368.1 L245.8 368.1 M245.8 368.1 L246.9 368.1 L248.0 368.1 M250.2 368.1 L251.3 368.1 L252.4 368.2 M256.7 368.4 L257.7 368.5 L258.8 368.6 M258.8 368.6 L260.0 368.7 M260.0 368.7 L261.1 368.8 M261.1 368.8 L262.2 368.9 M263.3 369.1 L264.4 369.3 L265.5 369.4 M266.6 369.6 L267.6 369.8 M268.7 370.0 L269.7 370.2 M269.7 370.2 L270.8 370.3 L271.8 370.5 M272.7 370.7 L273.7 370.9 L274.6 371.0 M277.9 371.6 L278.9 371.8 M279.9 372.0 L280.9 372.2 M280.9 372.2 L281.8 372.5 L282.8 372.7 M288.9 373.9 L289.9 374.0 M289.9 374.0 L290.8 374.2 L291.8 374.4 M291.8 374.4 L292.9 374.6 M292.9 374.6 L293.9 374.8 L295.0 375.0 M298.2 375.5 L299.3 375.7 M300.3 375.9 L301.4 376.0 M301.4 376.0 L302.4 376.2 M302.4 376.2 L303.4 376.3 M303.4 376.3 L304.4 376.5 M304.4 376.5 L305.3 376.6 M305.3 376.6 L306.4 376.7 M306.4 376.7 L307.4 376.8 L308.4 376.9 M308.4 376.9 L309.4 377.0 L310.3 377.1 M311.3 377.1 L312.2 377.2 M312.2 377.2 L313.1 377.3 M315.0 377.4 L316.0 377.4 L316.9 377.4 M316.9 377.4 L317.9 377.4 L319.0 377.4 M319.0 377.4 L320.0 377.5 L321.0 377.4 M321.0 377.4 L321.9 377.4 L323.0 377.4 M323.0 377.4 L324.0 377.4 M325.0 377.4 L326.1 377.3 M326.1 377.3 L327.2 377.3 L328.2 377.3 M331.4 377.1 L332.5 377.0 L333.5 377.0 M333.5 377.0 L334.5 376.9 L335.4 376.8 M335.4 376.8 L336.3 376.7 M339.5 376.4 L340.5 376.3 M340.5 376.3 L341.4 376.1 L342.4 376.0 M343.3 375.8 L344.2 375.6 L345.2 375.4 M345.2 375.4 L346.1 375.3 L347.2 375.0 M347.2 375.0 L348.3 374.8 L349.5 374.6 M349.5 374.6 L350.4 374.4 L351.3 374.2 M351.3 374.2 L352.2 374.0 M359.4 372.5 L360.5 372.2 M360.5 372.2 L361.6 372.0 L362.7 371.8 M369.2 370.7 L370.2 370.6 M370.2 370.6 L371.2 370.5 M371.2 370.5 L372.3 370.3 L373.3 370.2 M373.3 370.2 L374.4 370.0 L375.5 369.9 M376.6 369.8 L377.6 369.6 M377.6 369.6 L378.7 369.5 L379.8 369.4 M379.8 369.4 L380.9 369.3 M380.9 369.3 L382.0 369.2 L383.1 369.1 M385.2 368.9 L386.3 368.8 L387.3 368.8 M387.3 368.8 L388.4 368.7 L389.4 368.6 M389.4 368.6 L390.5 368.6 L391.5 368.6 M392.5 368.5 L393.6 368.5 L394.6 368.5 M397.7 368.5 L398.7 368.5 L399.8 368.5 M406.7 368.7 L407.6 368.8 M407.6 368.8 L408.7 368.8 M408.7 368.8 L409.8 368.9 L410.9 368.9 M413.0 369.1 L414.0 369.2 M414.0 369.2 L415.0 369.2 L416.0 369.3 M416.0 369.3 L417.0 369.4 M417.0 369.4 L418.0 369.5 L419.1 369.7 M419.1 369.7 L420.1 369.8 L421.1 369.9 M424.3 370.3 L425.4 370.5 L426.4 370.6 M426.4 370.6 L427.4 370.8 M428.4 370.9 L429.4 371.1 L430.4 371.3 M430.4 371.3 L431.5 371.5 M432.5 371.7 L433.6 371.9 L434.7 372.1 M435.7 372.3 L436.8 372.5 L437.8 372.7 M438.8 372.9 L439.8 373.1 L440.8 373.3 M442.8 373.7 L443.7 373.9 L444.6 374.0 M446.6 374.4 L447.7 374.6 L448.8 374.8 M448.8 374.8 L449.8 375.0 L450.7 375.2 M451.7 375.4 L452.6 375.5 M452.6 375.5 L453.5 375.7 M454.4 375.9 L455.3 376.0 M455.3 376.0 L456.2 376.2 L457.1 376.3 M457.1 376.3 L458.1 376.4 L459.2 376.6 M459.2 376.6 L460.3 376.7 M460.3 376.7 L461.1 376.7 M461.1 376.7 L462.0 376.8 L463.0 376.9 M465.8 377.1 L466.8 377.2 M466.8 377.2 L467.8 377.2 L468.8 377.3 M468.8 377.3 L469.8 377.3 L470.8 377.4 M470.8 377.4 L471.9 377.4 M471.9 377.4 L472.9 377.4 M472.9 377.4 L473.9 377.4 L474.9 377.5 M474.9 377.5 L475.9 377.5 L477.0 377.5 M477.0 377.5 L478.0 377.5 M478.0 377.5 L479.0 377.5 L479.9 377.5 M480.9 377.4 L481.9 377.4 L483.0 377.3 M483.0 377.3 L484.0 377.3 L485.1 377.2 M488.3 376.9 L489.4 376.8 M490.5 376.7 L491.5 376.6 M491.5 376.6 L492.6 376.5 M492.6 376.5 L493.6 376.4 M493.6 376.4 L494.6 376.3 L495.5 376.2 M495.5 376.2 L496.5 376.1 L497.3 376.0 M497.3 376.0 L498.2 375.9 M498.2 375.9 L499.0 375.8 L499.7 375.8 M502.5 375.4 L503.5 375.3 M503.5 375.3 L504.3 375.2 L505.0 375.0 M506.6 374.8 L507.5 374.6 L508.7 374.4 M514.3 373.2 L514.2 373.4 L515.0 372.8 M515.0 372.8 L516.1 371.9 M516.1 371.9 L517.0 371.2 L518.0 369.9 M518.0 369.9 L519.3 368.4 L520.5 367.0 M520.5 367.0 L521.8 365.4 M523.0 364.3 L524.0 363.3 L525.1 362.4 M525.1 362.4 L526.1 361.4 L527.1 360.5 M527.1 360.5 L528.1 359.5 L529.1 358.7 M531.1 356.5 L532.2 355.4 M535.3 352.0 L536.4 350.8 M538.5 348.6 L539.5 347.4 M180.2 385.2 L181.3 386.0 L183.0 387.0 M184.7 387.3 L186.3 387.3 M186.3 387.3 L188.0 386.9 L189.6 386.0 M189.6 386.0 L190.7 385.1 M193.8 382.5 L194.9 381.6 L195.8 380.8 M196.9 379.9 L197.5 379.3 M198.6 378.8 L199.1 378.6 M199.1 378.6 L200.0 378.3 M200.0 378.3 L200.9 378.1 M200.9 378.1 L202.0 377.8 M202.0 377.8 L203.1 377.6 L204.3 377.3 M204.3 377.3 L205.5 377.1 M207.3 376.8 L208.3 376.6 M210.3 376.3 L211.3 376.2 M221.0 374.9 L222.0 374.8 L223.0 374.7 M226.1 374.5 L227.1 374.4 M227.1 374.4 L228.0 374.3 L229.0 374.3 M231.1 374.1 L232.1 374.1 M232.1 374.1 L233.2 374.0 M233.2 374.0 L234.3 374.0 L235.4 373.9 M235.4 373.9 L236.5 373.9 M238.9 373.8 L239.9 373.8 L240.8 373.8 M240.8 373.8 L241.8 373.8 L242.8 373.8 M243.8 373.8 L244.8 373.8 L245.8 373.8 M245.8 373.8 L246.9 373.8 M246.9 373.8 L248.0 373.8 L249.0 373.8 M249.0 373.8 L250.1 373.8 M250.1 373.8 L251.1 373.8 M253.2 373.9 L254.3 373.9 M254.3 373.9 L255.3 374.0 M257.3 374.1 L258.3 374.2 L259.3 374.3 M259.3 374.3 L260.4 374.5 M261.4 374.6 L262.5 374.7 L263.5 374.9 M265.6 375.2 L266.7 375.4 M271.7 376.3 L272.7 376.5 L273.6 376.6 M273.6 376.6 L274.5 376.8 M274.5 376.8 L275.7 377.0 M275.7 377.0 L276.8 377.2 M276.8 377.2 L277.8 377.4 L278.8 377.6 M278.8 377.6 L279.7 377.8 M279.7 377.8 L280.7 378.0 M280.7 378.0 L281.6 378.2 M284.6 378.9 L285.8 379.1 M285.8 379.1 L287.0 379.3 M291.8 380.2 L292.9 380.4 L294.0 380.6 M296.2 381.0 L297.3 381.1 M297.3 381.1 L298.3 381.3 M298.3 381.3 L299.4 381.5 M299.4 381.5 L300.5 381.7 M302.6 382.0 L303.7 382.1 L304.7 382.2 M304.7 382.2 L305.8 382.4 L306.8 382.5 M306.8 382.5 L307.8 382.6 L308.9 382.7 M309.9 382.8 L310.9 382.8 L311.8 382.9 M312.8 383.0 L313.8 383.0 M313.8 383.0 L314.8 383.0 M316.8 383.1 L317.8 383.1 M317.8 383.1 L318.9 383.1 M318.9 383.1 L320.0 383.1 L321.0 383.1 M321.0 383.1 L322.0 383.1 L323.1 383.1 M323.1 383.1 L324.1 383.1 L325.2 383.1 M327.4 383.0 L328.5 383.0 L329.6 382.9 M331.8 382.8 L332.8 382.7 L333.9 382.7 M337.8 382.3 L339.0 382.2 M343.3 381.6 L344.3 381.4 M346.3 381.0 L347.3 380.8 M350.5 380.2 L351.5 380.0 M353.4 379.6 L354.4 379.4 L355.4 379.2 M357.4 378.7 L358.4 378.5 M358.4 378.5 L359.5 378.3 M359.5 378.3 L360.5 378.0 M360.5 378.0 L361.6 377.8 L362.7 377.6 M362.7 377.6 L363.8 377.4 M364.9 377.2 L366.0 377.0 L367.1 376.8 M373.0 376.0 L374.1 375.8 M374.1 375.8 L375.1 375.7 L376.2 375.5 M376.2 375.5 L377.2 375.4 L378.3 375.3 M382.5 374.8 L383.6 374.7 L384.6 374.7 M384.6 374.7 L385.6 374.6 L386.7 374.5 M391.7 374.3 L392.7 374.2 M394.7 374.2 L395.7 374.2 L396.7 374.2 M396.7 374.2 L397.7 374.2 M399.7 374.2 L400.7 374.2 M400.7 374.2 L401.6 374.2 M406.4 374.4 L407.4 374.4 M407.4 374.4 L408.4 374.5 M409.5 374.6 L410.5 374.6 L411.5 374.7 M411.5 374.7 L412.5 374.8 L413.5 374.8 M413.5 374.8 L414.5 374.9 M416.5 375.1 L417.4 375.2 M417.4 375.2 L418.4 375.3 L419.4 375.4 M419.4 375.4 L420.4 375.6 M421.4 375.7 L422.5 375.8 M422.5 375.8 L423.5 376.0 L424.6 376.1 M425.5 376.3 L426.5 376.4 M429.4 376.9 L430.5 377.1 L431.5 377.3 M431.5 377.3 L432.5 377.5 L433.6 377.7 M437.7 378.5 L438.7 378.7 M438.7 378.7 L439.7 378.9 L440.7 379.1 M440.7 379.1 L441.7 379.3 L442.7 379.5 M444.5 379.8 L445.6 380.0 L446.7 380.2 M449.6 380.8 L450.6 381.0 L451.5 381.1 M451.5 381.1 L452.4 381.3 M453.4 381.5 L454.4 381.7 M454.4 381.7 L455.4 381.8 M455.4 381.8 L456.4 382.0 M457.4 382.1 L458.6 382.2 M458.6 382.2 L459.7 382.3 M459.7 382.3 L460.6 382.4 L461.6 382.5 M462.5 382.6 L463.5 382.7 L464.5 382.7 M464.5 382.7 L465.5 382.8 L466.5 382.9 M466.5 382.9 L467.5 382.9 L468.5 383.0 M468.5 383.0 L469.6 383.0 L470.6 383.1 M470.6 383.1 L471.7 383.1 M474.8 383.2 L475.9 383.2 L476.9 383.2 M476.9 383.2 L478.0 383.2 M482.2 383.1 L483.3 383.0 L484.4 383.0 M487.7 382.7 L488.8 382.6 M489.9 382.5 L491.0 382.4 M491.0 382.4 L492.1 382.3 M496.2 381.9 L497.1 381.8 L498.0 381.7 M498.0 381.7 L498.8 381.6 L499.6 381.5 M500.3 381.4 L501.9 381.3 M501.9 381.3 L503.2 381.1 M506.1 380.7 L506.8 380.5 M506.8 380.5 L507.6 380.4 M507.6 380.4 L508.5 380.2 M511.0 379.7 L512.2 379.5 M512.2 379.5 L513.5 379.2 L514.6 379.0 M514.6 379.0 L515.5 378.8 M519.6 376.3 L521.0 375.2 L522.4 373.5 M522.4 373.5 L523.6 372.1 L524.9 370.6 M524.9 370.6 L526.0 369.2 L526.9 368.5 M526.9 368.5 L527.9 367.5 L528.9 366.6 M533.1 362.7 L534.2 361.5 L535.3 360.4 M535.3 360.4 L536.3 359.2 L537.4 358.1 M537.4 358.1 L538.5 357.0 M542.7 352.4 L543.7 351.3 L544.8 350.2" stroke="#0b3f35" stroke-width="1.25" fill="none" opacity="0.95"/>
<path d="M193.3 375.6 l-0.8 -0.9 M197.4 379.2 l0.4 0.7 M199.1 378.5 l0.4 1.1 M199.6 372.7 l-0.3 -1.2 M214.7 370.1 l-0.2 -1.2 M221.0 374.8 l0.1 1.1 M222.0 374.7 l0.1 1.1 M228.0 374.2 l0.1 0.8 M237.7 373.7 l0.0 1.1 M256.3 373.9 l-0.1 1.2 M263.6 374.8 l-0.2 1.3 M264.6 374.9 l-0.2 1.1 M294.9 375.1 l0.2 -0.9 M299.5 381.3 l-0.1 0.8 M304.4 376.6 l0.2 -1.2 M313.8 382.9 l-0.0 0.8 M342.3 381.6 l0.2 1.2 M347.2 380.7 l0.2 1.2 M348.3 375.0 l-0.2 -0.8 M350.4 374.6 l-0.2 -1.0 M352.4 379.7 l0.2 1.1 M363.8 377.2 l0.2 0.9 M412.6 374.6 l-0.1 1.2 M423.2 370.3 l0.1 -0.9 M447.7 380.3 l-0.2 1.1 M450.7 375.3 l0.2 -0.8 M452.5 375.7 l0.2 -0.9 M457.1 376.5 l0.1 -0.9 M459.2 376.7 l0.1 -1.3 M461.6 382.4 l-0.1 1.0 M464.5 382.6 l-0.1 0.8 M492.1 382.2 l0.1 1.1 M505.1 375.2 l-0.2 -1.1 M539.4 355.7 l0.7 0.7 M547.8 346.7 l0.9 0.8" stroke="#0b3f35" stroke-width="0.9" fill="none" opacity="0.8"/>
<rect x="524.4" y="364" width="6.5" height="35.3" fill="#0b3f35" opacity="0.75"/>
<rect x="525.0" y="362" width="5.4" height="36.7" fill="#13ae84"/>
<path d="M524.9 356.5 V367 M528.7 351.8 V363 M530 353 V362" stroke="#0b3f35" stroke-width="0.8" fill="none" opacity="0.85"/>
<polyline points="546.7,343.5 547.7,343.5 548.7,343.5 549.7,343.5 550.7,343.5 551.7,343.5 552.7,343.5 553.7,343.5 554.7,343.5 555.8,343.5 556.8,343.5 557.8,343.5 558.8,343.5 559.8,343.5 560.8,343.5 561.8,343.5 562.8,343.5 563.8,343.5 564.8,343.5 565.8,343.5 566.8,343.5 567.8,343.5 568.8,343.5 569.8,343.5 570.8,343.5 571.8,343.5 572.9,343.5 573.9,343.5 574.9,343.5 575.9,343.5 576.9,343.5 577.9,343.5 578.9,343.5 579.9,343.5 580.9,343.5 581.9,343.5 582.9,343.5 583.9,343.5 584.9,343.5 585.9,343.5 586.9,343.5 587.9,343.5 588.9,343.5 590.0,343.5 591.0,343.5 592.0,343.5 593.0,343.5 594.0,343.5 595.0,343.5 596.0,343.5 597.0,343.5 598.0,343.5 599.0,343.5 600.0,343.5 601.0,343.5 602.0,343.5 603.0,343.5 604.0,343.5 605.0,343.5 606.0,343.5 607.1,343.5 608.1,343.5 609.1,343.5 610.1,343.5 611.1,343.5 612.1,343.5 613.1,343.5 614.1,343.5 615.1,343.5 616.1,343.5 617.1,343.5 618.1,343.5 619.1,343.5 620.1,343.5 621.1,343.5 622.1,343.5 623.2,343.5 624.2,343.5 625.2,343.5 626.2,343.5 627.2,343.5 628.2,343.5 629.2,343.5 630.2,343.5 631.2,343.5 632.2,343.5 633.2,343.5 634.2,343.5 635.2,343.5 636.2,343.5 637.2,343.5 638.2,343.5 639.2,343.5 640.3,343.5 641.3,343.5 642.3,343.5 643.3,343.5 644.3,343.5 645.3,343.5 646.3,343.5 647.3,343.5 648.3,343.5 649.3,343.5 650.3,343.5 651.3,343.5 652.3,343.5 653.3,343.5 654.3,343.5 655.3,343.5 656.3,343.5 657.4,343.5 658.4,343.5 659.4,343.5 660.4,343.5 661.4,343.5 662.4,343.5 663.4,343.5 664.4,343.5 665.4,343.5 666.4,343.5 667.4,343.5 668.4,343.5 669.4,343.5 670.4,343.5 671.4,343.5 672.4,343.5 673.4,343.5 674.5,343.5 675.5,343.5 676.5,343.5 677.5,343.5 678.5,343.5 679.5,343.5 680.5,343.5 681.5,343.5 682.5,343.5" fill="none" stroke="#13ae84" stroke-width="5.9" stroke-linejoin="round"/>
<path d="M550.7 341.0 L551.7 341.0 L552.7 341.0 L553.7 341.0 M553.7 341.0 L554.7 341.0 L555.8 341.0 L556.8 341.0 M556.8 341.0 L557.8 341.0 M557.8 341.0 L558.8 341.0 L559.8 341.0 M559.8 341.0 L560.8 341.0 L561.8 341.0 M564.8 341.0 L565.8 341.0 M565.8 341.0 L566.8 341.0 L567.8 341.0 L568.8 341.0 M568.8 341.0 L569.8 341.0 L570.8 341.0 L571.8 341.0 M571.8 341.0 L572.9 341.0 L573.9 341.0 L574.9 341.0 M574.9 341.0 L575.9 341.0 L576.9 341.0 L577.9 341.0 M577.9 341.0 L578.9 341.0 L579.9 341.0 M579.9 341.0 L580.9 341.0 M580.9 341.0 L581.9 341.0 L582.9 341.0 L583.9 341.0 L584.9 341.0 M584.9 341.0 L585.9 341.0 L586.9 341.0 L587.9 341.0 M587.9 341.0 L588.9 341.0 M588.9 341.0 L590.0 341.0 L591.0 341.0 L592.0 341.0 M592.0 341.0 L593.0 341.0 L594.0 341.0 L595.0 341.0 L596.0 341.0 M596.0 341.0 L597.0 341.0 L598.0 341.0 M598.0 341.0 L599.0 341.0 L600.0 341.0 L601.0 341.0 M601.0 341.0 L602.0 341.0 M604.0 341.0 L605.0 341.0 M605.0 341.0 L606.0 341.0 L607.1 341.0 M607.1 341.0 L608.1 341.0 L609.1 341.0 L610.1 341.0 L611.1 341.0 M611.1 341.0 L612.1 341.0 L613.1 341.0 L614.1 341.0 L615.1 341.0 M615.1 341.0 L616.1 341.0 M616.1 341.0 L617.1 341.0 L618.1 341.0 M618.1 341.0 L619.1 341.0 L620.1 341.0 L621.1 341.0 L622.1 341.0 M622.1 341.0 L623.2 341.0 L624.2 341.0 L625.2 341.0 M625.2 341.0 L626.2 341.0 L627.2 341.0 L628.2 341.0 M628.2 341.0 L629.2 341.0 L630.2 341.0 L631.2 341.0 L632.2 341.0 M634.2 341.0 L635.2 341.0 M637.2 341.0 L638.2 341.0 L639.2 341.0 M639.2 341.0 L640.3 341.0 L641.3 341.0 L642.3 341.0 M642.3 341.0 L643.3 341.0 L644.3 341.0 L645.3 341.0 L646.3 341.0 M646.3 341.0 L647.3 341.0 L648.3 341.0 L649.3 341.0 L650.3 341.0 M650.3 341.0 L651.3 341.0 L652.3 341.0 L653.3 341.0 M657.4 341.0 L658.4 341.0 L659.4 341.0 M659.4 341.0 L660.4 341.0 M660.4 341.0 L661.4 341.0 L662.4 341.0 L663.4 341.0 L664.4 341.0 M664.4 341.0 L665.4 341.0 L666.4 341.0 M666.4 341.0 L667.4 341.0 M667.4 341.0 L668.4 341.0 L669.4 341.0 M669.4 341.0 L670.4 341.0 L671.4 341.0 L672.4 341.0 M672.4 341.0 L673.4 341.0 M673.4 341.0 L674.5 341.0 M678.5 341.0 L679.5 341.0 L680.5 341.0 L681.5 341.0 L682.5 341.0 M546.7 346.0 L547.7 346.0 L548.7 346.0 L549.7 346.0 M549.7 346.0 L550.7 346.0 M550.7 346.0 L551.7 346.0 L552.7 346.0 M555.8 346.0 L556.8 346.0 L557.8 346.0 L558.8 346.0 L559.8 346.0 M567.8 346.0 L568.8 346.0 L569.8 346.0 L570.8 346.0 M574.9 346.0 L575.9 346.0 L576.9 346.0 L577.9 346.0 M579.9 346.0 L580.9 346.0 L581.9 346.0 M582.9 346.0 L583.9 346.0 L584.9 346.0 L585.9 346.0 M596.0 346.0 L597.0 346.0 L598.0 346.0 L599.0 346.0 L600.0 346.0 M606.0 346.0 L607.1 346.0 L608.1 346.0 L609.1 346.0 L610.1 346.0 M610.1 346.0 L611.1 346.0 M620.1 346.0 L621.1 346.0 L622.1 346.0 M622.1 346.0 L623.2 346.0 M623.2 346.0 L624.2 346.0 L625.2 346.0 L626.2 346.0 M627.2 346.0 L628.2 346.0 M637.2 346.0 L638.2 346.0 L639.2 346.0 M643.3 346.0 L644.3 346.0 L645.3 346.0 M648.3 346.0 L649.3 346.0 L650.3 346.0 L651.3 346.0 L652.3 346.0 M663.4 346.0 L664.4 346.0 L665.4 346.0 M665.4 346.0 L666.4 346.0 L667.4 346.0 L668.4 346.0 L669.4 346.0 M676.5 346.0 L677.5 346.0 L678.5 346.0 L679.5 346.0" stroke="#0b3f35" stroke-width="1.25" fill="none" opacity="0.95"/>
<path d="M551.7 341.1 l0.0 -1.9 M555.8 341.1 l0.0 -1.8 M566.8 345.9 l-0.0 1.8 M579.9 345.9 l-0.0 1.5 M584.9 341.1 l0.0 -1.3 M587.9 345.9 l-0.0 1.8 M596.0 345.9 l-0.0 1.9 M605.0 345.9 l-0.0 1.1 M625.2 345.9 l-0.0 1.1 M631.2 345.9 l-0.0 2.0 M635.2 345.9 l-0.0 1.2 M638.2 345.9 l-0.0 1.7 M641.3 341.1 l0.0 -1.8 M653.3 341.1 l0.0 -0.8 M656.3 345.9 l-0.0 1.5 M662.4 345.9 l-0.0 1.1 M664.4 345.9 l-0.0 1.7 M678.5 345.9 l-0.0 1.2" stroke="#0b3f35" stroke-width="0.9" fill="none" opacity="0.8"/>
<polyline points="51.0,443.8 52.0,443.8 53.0,443.8 54.0,443.8 55.0,443.8 56.0,443.8 57.0,443.8 58.0,443.8 59.0,443.8 60.0,443.8 61.0,443.8 62.0,443.8 63.0,443.8 64.0,443.8 65.0,443.8 66.0,443.8 67.0,443.8 68.0,443.8 69.0,443.8 70.0,443.8 71.0,443.8 72.0,443.8 73.1,443.8 74.1,443.8 75.1,443.8 76.1,443.8 77.1,443.8 78.1,443.8 79.1,443.8 80.1,443.8 81.1,443.8 82.1,443.8 83.1,443.8 84.1,443.8 85.1,443.8 86.1,443.8 87.1,443.8 88.1,443.8 89.1,443.8 90.1,443.8 91.1,443.8 92.1,443.8 93.1,443.8 94.1,443.8 95.1,443.8 96.1,443.8 97.1,443.8 98.1,443.8 99.1,443.8 100.1,443.8 101.1,443.8 102.1,443.8 103.1,443.8 104.1,443.8 105.1,443.8 106.1,443.8 107.1,443.8 108.1,443.8 109.1,443.8 110.1,443.8 111.1,443.8 112.1,443.8 113.1,443.8 114.1,443.8 115.1,443.8 116.2,443.8 117.2,443.8 118.2,443.8 119.2,443.8 120.2,443.8 121.2,443.8 122.2,443.8 123.2,443.8 124.2,443.8 125.2,443.8 126.2,443.8 127.2,443.8 128.2,443.8 129.2,443.8 130.2,443.8 131.2,443.8 132.2,443.8 133.2,443.8 134.2,443.8 135.2,443.8 136.2,443.8 137.2,443.8 138.2,443.8 139.2,443.8 140.2,443.8 141.2,443.8 142.2,443.8 143.2,443.8 144.2,443.8 145.2,443.8 146.2,443.8 147.2,443.8 148.2,443.8 149.2,443.8 150.2,443.8 151.2,443.8 152.2,443.8 153.2,443.8 154.2,443.8 155.2,443.8 156.2,443.8 157.2,443.8 158.2,443.8 159.2,443.8 160.3,443.8 161.3,443.8 162.3,443.8 163.3,443.8 164.3,443.8 165.3,443.8 166.3,443.8 167.3,443.8 168.3,443.8 169.3,443.8 170.3,443.8 171.3,443.8 172.3,443.8 173.3,443.8 174.3,443.8 175.3,443.8 176.3,443.8 177.3,443.8 178.3,443.8 179.3,443.8 180.3,443.8 181.3,443.8" fill="none" stroke="#b7284c" stroke-width="6.4" stroke-linejoin="round"/>
<path d="M53.0 441.1 L54.0 441.1 L55.0 441.1 L56.0 441.1 M56.0 441.1 L57.0 441.1 M57.0 441.1 L58.0 441.1 M58.0 441.1 L59.0 441.1 L60.0 441.1 L61.0 441.1 L62.0 441.1 M66.0 441.1 L67.0 441.1 L68.0 441.1 L69.0 441.1 L70.0 441.1 M70.0 441.1 L71.0 441.1 L72.0 441.1 L73.1 441.1 M73.1 441.1 L74.1 441.1 M74.1 441.1 L75.1 441.1 L76.1 441.1 M76.1 441.1 L77.1 441.1 M77.1 441.1 L78.1 441.1 L79.1 441.1 M79.1 441.1 L80.1 441.1 M80.1 441.1 L81.1 441.1 L82.1 441.1 M82.1 441.1 L83.1 441.1 L84.1 441.1 L85.1 441.1 L86.1 441.1 M86.1 441.1 L87.1 441.1 L88.1 441.1 L89.1 441.1 M89.1 441.1 L90.1 441.1 L91.1 441.1 M91.1 441.1 L92.1 441.1 L93.1 441.1 L94.1 441.1 L95.1 441.1 M95.1 441.1 L96.1 441.1 L97.1 441.1 M97.1 441.1 L98.1 441.1 L99.1 441.1 M99.1 441.1 L100.1 441.1 L101.1 441.1 M101.1 441.1 L102.1 441.1 M106.1 441.1 L107.1 441.1 M107.1 441.1 L108.1 441.1 M108.1 441.1 L109.1 441.1 M109.1 441.1 L110.1 441.1 L111.1 441.1 L112.1 441.1 M112.1 441.1 L113.1 441.1 L114.1 441.1 L115.1 441.1 L116.2 441.1 M116.2 441.1 L117.2 441.1 M117.2 441.1 L118.2 441.1 L119.2 441.1 L120.2 441.1 L121.2 441.1 M121.2 441.1 L122.2 441.1 L123.2 441.1 L124.2 441.1 M124.2 441.1 L125.2 441.1 L126.2 441.1 M126.2 441.1 L127.2 441.1 L128.2 441.1 L129.2 441.1 M129.2 441.1 L130.2 441.1 L131.2 441.1 L132.2 441.1 M134.2 441.1 L135.2 441.1 L136.2 441.1 L137.2 441.1 L138.2 441.1 M138.2 441.1 L139.2 441.1 M139.2 441.1 L140.2 441.1 L141.2 441.1 L142.2 441.1 M142.2 441.1 L143.2 441.1 M143.2 441.1 L144.2 441.1 M144.2 441.1 L145.2 441.1 L146.2 441.1 L147.2 441.1 L148.2 441.1 M148.2 441.1 L149.2 441.1 L150.2 441.1 L151.2 441.1 M151.2 441.1 L152.2 441.1 L153.2 441.1 L154.2 441.1 M156.2 441.1 L157.2 441.1 L158.2 441.1 L159.2 441.1 M159.2 441.1 L160.3 441.1 L161.3 441.1 M161.3 441.1 L162.3 441.1 L163.3 441.1 L164.3 441.1 L165.3 441.1 M165.3 441.1 L166.3 441.1 L167.3 441.1 L168.3 441.1 M168.3 441.1 L169.3 441.1 L170.3 441.1 M170.3 441.1 L171.3 441.1 M171.3 441.1 L172.3 441.1 L173.3 441.1 M175.3 441.1 L176.3 441.1 L177.3 441.1 L178.3 441.1 L179.3 441.1 M180.3 441.1 L181.3 441.1 M53.0 446.6 L54.0 446.6 L55.0 446.6 M55.0 446.6 L56.0 446.6 L57.0 446.6 M61.0 446.6 L62.0 446.6 L63.0 446.6 L64.0 446.6 M64.0 446.6 L65.0 446.6 L66.0 446.6 M66.0 446.6 L67.0 446.6 L68.0 446.6 L69.0 446.6 M73.1 446.6 L74.1 446.6 M74.1 446.6 L75.1 446.6 L76.1 446.6 M76.1 446.6 L77.1 446.6 L78.1 446.6 L79.1 446.6 L80.1 446.6 M84.1 446.6 L85.1 446.6 L86.1 446.6 L87.1 446.6 L88.1 446.6 M88.1 446.6 L89.1 446.6 L90.1 446.6 M94.1 446.6 L95.1 446.6 L96.1 446.6 L97.1 446.6 L98.1 446.6 M98.1 446.6 L99.1 446.6 M100.1 446.6 L101.1 446.6 L102.1 446.6 L103.1 446.6 L104.1 446.6 M104.1 446.6 L105.1 446.6 L106.1 446.6 L107.1 446.6 L108.1 446.6 M108.1 446.6 L109.1 446.6 L110.1 446.6 L111.1 446.6 M111.1 446.6 L112.1 446.6 M112.1 446.6 L113.1 446.6 L114.1 446.6 L115.1 446.6 L116.2 446.6 M116.2 446.6 L117.2 446.6 L118.2 446.6 L119.2 446.6 M121.2 446.6 L122.2 446.6 M131.2 446.6 L132.2 446.6 L133.2 446.6 M133.2 446.6 L134.2 446.6 L135.2 446.6 L136.2 446.6 M136.2 446.6 L137.2 446.6 L138.2 446.6 L139.2 446.6 M139.2 446.6 L140.2 446.6 M143.2 446.6 L144.2 446.6 L145.2 446.6 L146.2 446.6 L147.2 446.6 M150.2 446.6 L151.2 446.6 L152.2 446.6 M156.2 446.6 L157.2 446.6 L158.2 446.6 L159.2 446.6 L160.3 446.6 M164.3 446.6 L165.3 446.6 L166.3 446.6 L167.3 446.6 M172.3 446.6 L173.3 446.6 L174.3 446.6 M174.3 446.6 L175.3 446.6 M178.3 446.6 L179.3 446.6 L180.3 446.6 L181.3 446.6" stroke="#55101f" stroke-width="1.25" fill="none" opacity="0.95"/>
<path d="M72.0 446.4 l-0.0 1.0 M81.1 446.4 l-0.0 0.8 M83.1 441.2 l0.0 -1.1 M112.1 446.4 l-0.0 1.3 M113.1 446.4 l-0.0 1.0 M128.2 446.4 l-0.0 1.0" stroke="#55101f" stroke-width="0.9" fill="none" opacity="0.8"/>
<polygon points="181.5,441.0 182.3,441.0 181.5,462.0 182.3,461.1 183.6,461.2 184.3,460.9 185.2,461.4 186.5,462.1 187.6,461.3 188.7,461.5 189.5,462.3 190.9,460.9 192.1,461.3 193.0,461.0 194.2,461.0 195.5,461.0 196.9,462.2 198.2,461.9 199.5,460.8 200.7,460.7 201.9,462.2 202.6,462.2 204.0,462.0 205.2,461.3 206.5,460.7 207.6,461.7 208.6,461.6 209.5,462.0 210.7,461.4 211.8,461.9 213.1,461.4 214.0,462.1 214.7,461.9 215.4,461.4 216.7,461.5 218.0,462.0 219.0,462.0 219.8,462.1 220.7,461.3 222.0,461.6 223.1,462.2 224.1,461.1 225.3,461.7 226.5,461.5 227.6,462.2 228.7,461.0 229.8,461.7 231.0,460.7 231.8,461.1 232.6,462.3 233.6,462.1 234.5,461.8 235.6,462.0 236.4,461.2 237.1,461.0 238.5,461.0 239.5,462.2 240.4,460.8 241.3,461.3 242.2,462.2 243.1,460.8 243.9,461.6 245.0,462.1 245.7,461.8 246.4,460.8 247.2,462.1 248.3,461.7 249.3,461.1 250.2,461.7 251.2,461.4 252.6,461.4 253.9,461.4 255.2,461.0 256.1,461.2 257.4,461.8 258.5,462.0 259.6,461.7 260.8,461.6 262.1,460.8 263.5,461.9 264.6,462.1 265.4,461.0 266.5,461.3 267.8,461.5 269.0,461.8 270.3,460.9 271.2,461.2 272.0,461.5 272.9,461.7 274.1,461.7 274.9,461.5 276.0,462.0 277.1,460.9 278.4,461.4 279.8,460.7 280.6,461.6 281.5,461.7 282.7,461.5 283.9,461.0 285.0,462.1 285.9,462.1 286.7,461.4 287.5,461.6 288.8,462.2 290.2,461.1 291.1,461.3 291.9,461.4 292.7,461.4 293.7,461.5 294.5,462.1 295.3,461.8 296.1,461.9 297.3,462.3 298.4,462.2 299.2,461.0 300.2,461.5 301.4,461.2 302.5,462.3 303.3,462.2 304.0,461.8 305.1,462.2 306.3,460.9 307.3,462.2 308.3,462.2 309.2,461.9 310.3,461.6 311.7,461.8 312.6,461.8 313.9,462.0 315.2,460.8 316.1,461.0 317.0,461.3 318.3,461.4 319.3,461.9 320.1,462.0 321.1,461.1 322.0,462.3 323.0,461.9 324.2,462.1 325.4,460.8 326.4,461.5 327.6,461.0 328.9,461.2 329.9,460.8 331.2,461.4 332.6,461.5 333.5,461.2 334.6,461.4 335.8,460.8 336.7,460.9 338.0,461.2 339.0,461.7 340.2,460.9 341.6,462.1 342.5,461.2 343.3,461.6 344.4,461.5 345.1,461.6 346.4,461.1 347.6,461.9 348.4,462.3 349.5,462.1 350.4,461.4 351.4,461.3 352.5,461.0 353.5,461.1 354.6,461.0 355.8,461.6 357.2,461.5 358.5,462.3 359.5,461.8 360.4,460.8 361.6,460.9 362.7,461.1 363.4,462.1 364.4,462.1 365.7,460.9 367.0,461.8 367.8,461.5 369.0,461.1 369.9,460.7 370.8,461.9 372.0,461.1 373.3,461.2 374.1,461.2 375.4,461.1 376.5,462.2 377.7,461.7 379.0,462.2 379.8,460.7 380.7,462.0 381.6,461.2 383.0,460.8 383.9,461.4 384.8,461.1 385.6,461.9 386.9,460.9 387.8,462.3 388.6,462.1 389.4,461.2 390.3,461.3 391.2,460.9 392.5,461.3 393.8,461.5 394.5,460.8 395.9,461.0 397.1,460.9 398.0,461.2 399.2,461.9 400.5,461.5 401.3,461.8 402.6,460.9 403.6,461.5 404.9,462.0 405.6,461.2 406.4,461.3 407.3,461.1 408.4,461.6 409.2,461.2 410.1,461.7 411.4,462.0 412.8,461.1 413.8,461.0 415.0,460.7 415.8,461.9 417.0,462.2 417.7,461.0 418.8,461.0 420.2,460.9 421.1,461.1 422.5,462.0 423.3,461.0 424.3,461.5 425.0,460.9 425.8,460.8 427.1,461.2 428.3,461.3 429.3,461.5 430.0,462.2 430.7,461.4 431.5,461.8 432.5,461.3 433.6,461.4 434.4,462.0 435.5,460.7 436.3,462.1 437.1,461.6 438.2,462.1 439.5,460.8 440.3,460.9 441.0,462.1 442.0,462.0 442.9,461.2 443.7,461.2 444.8,461.3 445.8,461.6 446.9,460.7 448.2,461.2 449.3,461.1 450.3,461.3 451.1,460.8 452.1,462.0 452.9,461.5 454.2,461.2 455.4,461.5 456.4,461.8 457.4,460.7 458.4,460.8 459.1,462.2 460.1,461.2 461.4,460.8 462.2,461.6 463.1,461.1 463.9,461.3 464.9,461.3 465.6,461.7 466.4,461.3 467.4,460.7 468.2,461.3 469.4,460.8 470.7,461.0 472.0,462.3 473.3,462.2 474.7,461.1 476.0,461.4 477.2,461.0 478.3,461.3 479.1,462.2 480.4,461.9 481.4,462.2 482.5,461.2 483.8,462.2 485.1,461.8 486.4,462.1 487.3,460.9 488.0,462.0 489.1,461.3 490.1,462.3 491.0,462.2 492.3,462.0 493.5,460.9 494.6,461.1 495.5,461.1 496.6,462.2 497.5,461.6 498.3,461.2 499.3,461.3 500.5,461.5 501.2,462.1 502.4,460.9 503.1,460.9 504.5,461.2 505.9,462.2 506.9,462.0 507.8,461.6 508.5,461.5 509.7,461.2 510.5,462.0 511.8,461.4 512.6,462.2 513.7,461.8 514.7,461.1 515.7,460.8 516.7,461.5 517.6,461.4 518.3,461.0 519.7,461.7 520.6,462.0 521.9,462.1 522.8,460.7 523.7,461.6 525.0,461.6 525.9,461.4 526.9,461.4 527.7,460.8 528.5,460.8 529.6,462.0 530.9,460.8 531.0,462.0 531.0,500.2 529.6,499.6 528.4,499.4 527.5,499.6 526.2,499.2 525.1,499.5 523.5,500.6 522.0,500.4 520.7,499.5 519.4,500.3 518.4,500.9 517.4,499.7 515.9,499.7 514.7,499.4 513.3,500.1 511.9,500.1 510.7,499.4 509.3,500.0 507.7,499.0 506.5,499.4 505.4,500.0 504.2,499.2 502.7,499.7 501.2,499.3 500.1,499.4 498.9,500.7 497.3,500.5 496.1,500.6 495.2,499.9 493.8,499.4 492.7,500.0 491.8,499.9 490.4,500.1 489.5,500.9 488.4,499.1 487.4,500.7 486.2,500.6 484.9,500.2 483.6,500.9 482.6,500.0 481.8,499.8 480.9,499.8 479.4,500.6 478.0,500.9 476.8,500.6 475.6,499.2 474.4,500.4 473.4,500.5 471.9,499.1 470.7,500.3 469.2,500.8 468.3,499.7 467.2,500.6 466.3,500.8 464.7,499.4 463.5,499.2 462.0,499.9 460.7,499.6 459.7,500.1 458.6,500.2 457.0,499.8 456.0,499.9 454.9,500.2 453.4,500.4 452.4,500.6 451.0,500.6 449.8,500.3 448.4,500.4 447.5,499.1 446.4,500.6 444.9,500.0 443.6,500.6 442.4,500.8 441.5,499.1 440.4,499.1 438.8,499.6 437.2,500.9 436.4,500.6 435.6,500.7 434.6,499.7 433.0,499.9 432.1,499.8 430.6,499.4 429.5,499.5 428.5,499.6 427.6,500.1 426.2,499.9 425.3,499.5 424.1,500.1 422.7,500.6 421.4,499.1 420.5,500.6 419.6,500.5 418.8,499.3 417.2,500.4 415.9,499.7 414.7,499.4 413.8,499.4 412.9,500.0 411.3,500.0 410.3,500.0 409.2,500.9 407.8,499.1 406.5,500.0 405.4,500.3 403.9,499.1 402.3,500.5 401.0,500.4 399.5,499.1 398.1,500.0 397.2,500.6 395.6,500.0 394.5,500.6 393.5,500.8 392.6,500.1 391.5,499.3 390.4,500.5 388.9,500.9 387.9,500.8 387.0,499.2 385.6,500.1 384.4,499.1 383.3,499.7 382.1,499.2 380.9,500.1 379.8,499.1 378.7,500.0 377.4,500.1 376.4,499.9 375.6,499.2 374.6,500.0 373.8,499.9 372.5,500.1 371.0,499.6 369.8,500.6 368.5,499.4 367.0,499.5 365.7,500.0 364.8,499.1 363.5,499.2 362.4,500.4 360.9,500.5 360.0,499.7 358.7,499.2 357.5,499.4 356.6,500.4 355.2,499.8 353.8,499.2 352.7,499.7 351.4,500.0 350.0,500.3 348.7,499.7 347.5,499.4 346.6,499.9 345.6,500.2 344.1,499.5 342.9,500.6 341.7,499.0 340.6,500.7 339.5,499.9 338.0,500.4 336.5,499.4 335.5,500.5 334.4,499.3 332.9,499.2 331.8,500.8 330.9,499.3 329.6,500.7 328.5,500.3 327.6,500.9 326.3,500.6 325.5,500.3 324.7,500.1 323.2,499.8 322.0,500.7 321.0,500.5 319.8,499.8 318.9,500.4 318.0,500.0 317.2,500.9 315.8,500.0 314.3,499.0 313.0,499.1 311.6,499.5 310.7,500.3 309.8,499.9 308.4,499.0 307.0,500.4 305.7,500.7 304.4,500.5 303.5,499.1 302.2,499.1 301.2,499.5 299.9,499.4 298.8,500.0 297.9,499.8 297.0,500.5 295.8,499.1 294.6,499.1 293.6,500.3 292.7,499.4 291.8,500.4 290.7,499.0 289.9,499.7 288.3,499.7 287.2,499.5 286.2,500.9 284.6,500.8 283.3,500.8 282.3,499.4 280.9,500.6 280.0,500.5 278.9,499.2 278.1,500.0 276.9,500.5 275.3,499.3 273.8,500.3 272.6,499.3 271.4,500.2 270.0,499.0 268.4,499.5 267.0,500.8 265.6,500.6 264.3,500.8 263.1,500.4 261.9,500.1 260.7,499.3 259.5,499.2 258.5,499.2 257.4,499.0 256.0,499.5 255.1,500.0 254.2,499.7 252.6,500.7 251.1,499.6 250.1,500.0 248.6,500.2 247.3,500.0 245.8,499.9 244.9,499.6 243.8,499.1 242.5,499.3 241.3,500.7 240.3,499.8 239.2,499.1 238.2,499.9 237.2,499.6 236.0,499.8 235.1,500.0 233.9,500.0 232.6,500.9 231.5,499.0 230.6,500.4 229.5,499.1 228.1,500.1 226.7,500.5 225.3,500.4 223.9,500.7 222.5,499.1 221.6,499.5 220.1,499.4 218.6,500.5 217.5,499.3 216.6,500.7 215.8,500.1 214.9,500.3 213.9,500.4 212.8,500.4 211.3,500.4 210.0,499.1 208.8,500.0 207.5,499.6 205.9,500.2 204.4,500.8 202.9,500.4 202.0,500.3 200.5,500.1 198.9,500.6 197.9,499.7 196.5,499.7 195.1,499.2 193.6,500.1 192.0,499.6 191.1,500.5 189.8,499.8 188.7,500.7 187.4,500.0 186.6,499.5 185.3,499.0 183.8,500.0 182.7,499.5 181.5,500.6 181.5,499.5" fill="#b7284c"/>
<path d="M182.3 461.9 v-3.8 M183.6 462.0 v-3.6 M185.2 462.2 v-4.0 M186.5 462.9 v-3.4 M189.5 463.1 v-3.1 M190.9 461.7 v-2.1 M192.1 462.1 v-1.8 M193.0 461.8 v-2.8 M194.2 461.8 v-2.5 M195.5 461.8 v-3.7 M196.9 463.0 v-3.1 M198.2 462.7 v-3.6 M200.7 461.5 v-2.8 M201.9 463.0 v-4.1 M202.6 463.0 v-4.2 M204.0 462.8 v-3.7 M205.2 462.1 v-2.4 M206.5 461.5 v-4.1 M207.6 462.5 v-3.1 M208.6 462.4 v-3.0 M209.5 462.8 v-2.1 M211.8 462.7 v-2.6 M213.1 462.2 v-3.7 M214.0 462.9 v-2.9 M214.7 462.7 v-3.4 M215.4 462.2 v-3.9 M218.0 462.8 v-1.5 M219.0 462.8 v-1.6 M219.8 462.9 v-3.5 M220.7 462.1 v-2.3 M222.0 462.4 v-4.1 M223.1 463.0 v-2.2 M224.1 461.9 v-2.9 M225.3 462.5 v-2.4 M227.6 463.0 v-3.7 M228.7 461.8 v-1.8 M231.0 461.5 v-2.8 M231.8 461.9 v-2.7 M232.6 463.1 v-3.6 M233.6 462.9 v-2.6 M234.5 462.6 v-2.5 M236.4 462.0 v-1.7 M237.1 461.8 v-4.0 M238.5 461.8 v-2.8 M239.5 463.0 v-3.3 M240.4 461.6 v-2.4 M241.3 462.1 v-2.2 M243.1 461.6 v-3.4 M245.7 462.6 v-2.6 M246.4 461.6 v-3.9 M247.2 462.9 v-2.1 M248.3 462.5 v-3.8 M249.3 461.9 v-3.5 M250.2 462.5 v-3.2 M252.6 462.2 v-3.6 M255.2 461.8 v-2.2 M256.1 462.0 v-3.8 M257.4 462.6 v-2.1 M259.6 462.5 v-4.2 M260.8 462.4 v-1.9 M262.1 461.6 v-3.3 M263.5 462.7 v-3.2 M264.6 462.9 v-3.8 M265.4 461.8 v-2.3 M267.8 462.3 v-1.6 M269.0 462.6 v-1.8 M270.3 461.7 v-4.1 M271.2 462.0 v-3.4 M272.9 462.5 v-1.8 M274.1 462.5 v-3.6 M274.9 462.3 v-3.5 M276.0 462.8 v-3.0 M278.4 462.2 v-2.2 M279.8 461.5 v-2.5 M280.6 462.4 v-1.9 M282.7 462.3 v-3.9 M283.9 461.8 v-2.6 M285.9 462.9 v-2.7 M288.8 463.0 v-2.8 M290.2 461.9 v-3.7 M291.1 462.1 v-3.8 M292.7 462.2 v-3.3 M293.7 462.3 v-2.9 M294.5 462.9 v-2.1 M295.3 462.6 v-3.9 M296.1 462.7 v-4.0 M297.3 463.1 v-2.8 M298.4 463.0 v-3.8 M299.2 461.8 v-2.0 M301.4 462.0 v-1.9 M302.5 463.1 v-3.1 M303.3 463.0 v-3.7 M304.0 462.6 v-3.0 M305.1 463.0 v-4.0 M306.3 461.7 v-3.6 M308.3 463.0 v-4.0 M310.3 462.4 v-2.6 M312.6 462.6 v-1.6 M315.2 461.6 v-3.9 M316.1 461.8 v-3.5 M317.0 462.1 v-3.7 M319.3 462.7 v-3.9 M320.1 462.8 v-3.5 M321.1 461.9 v-2.9 M323.0 462.7 v-3.9 M324.2 462.9 v-2.4 M326.4 462.3 v-2.5 M327.6 461.8 v-3.6 M328.9 462.0 v-1.7 M329.9 461.6 v-4.0 M331.2 462.2 v-4.2 M332.6 462.3 v-2.4 M333.5 462.0 v-2.9 M334.6 462.2 v-2.0 M335.8 461.6 v-3.1 M336.7 461.7 v-3.7 M339.0 462.5 v-1.7 M340.2 461.7 v-3.0 M341.6 462.9 v-2.6 M342.5 462.0 v-2.9 M344.4 462.3 v-1.6 M345.1 462.4 v-3.4 M346.4 461.9 v-3.0 M347.6 462.7 v-2.6 M349.5 462.9 v-1.8 M351.4 462.1 v-2.3 M352.5 461.8 v-1.5 M353.5 461.9 v-3.5 M354.6 461.8 v-2.1 M355.8 462.4 v-4.1 M357.2 462.3 v-4.0 M358.5 463.1 v-3.9 M360.4 461.6 v-2.4 M363.4 462.9 v-3.1 M365.7 461.7 v-2.0 M367.0 462.6 v-2.4 M367.8 462.3 v-1.5 M369.0 461.9 v-2.6 M369.9 461.5 v-2.6 M372.0 461.9 v-2.1 M373.3 462.0 v-2.4 M379.0 463.0 v-2.1 M379.8 461.5 v-3.6 M381.6 462.0 v-3.0 M383.0 461.6 v-3.4 M386.9 461.7 v-1.5 M388.6 462.9 v-3.8 M389.4 462.0 v-4.1 M390.3 462.1 v-3.5 M391.2 461.7 v-3.9 M392.5 462.1 v-2.6 M393.8 462.3 v-1.9 M395.9 461.8 v-4.1 M398.0 462.0 v-3.5 M399.2 462.7 v-2.4 M400.5 462.3 v-2.1 M401.3 462.6 v-3.3 M402.6 461.7 v-4.0 M404.9 462.8 v-3.8 M405.6 462.0 v-3.7 M406.4 462.1 v-3.1 M407.3 461.9 v-2.4 M409.2 462.0 v-3.7 M410.1 462.5 v-3.5 M411.4 462.8 v-3.4 M412.8 461.9 v-2.8 M413.8 461.8 v-3.9 M415.0 461.5 v-2.0 M415.8 462.7 v-2.4 M417.0 463.0 v-4.1 M418.8 461.8 v-3.7 M420.2 461.7 v-1.8 M421.1 461.9 v-3.1 M422.5 462.8 v-3.0 M423.3 461.8 v-3.4 M424.3 462.3 v-3.1 M425.0 461.7 v-4.0 M425.8 461.6 v-2.2 M427.1 462.0 v-2.0 M430.0 463.0 v-3.1 M430.7 462.2 v-4.2 M431.5 462.6 v-3.3 M432.5 462.1 v-2.0 M433.6 462.2 v-3.6 M434.4 462.8 v-3.7 M436.3 462.9 v-2.0 M437.1 462.4 v-2.6 M439.5 461.6 v-1.8 M440.3 461.7 v-3.4 M442.9 462.0 v-1.9 M443.7 462.0 v-3.4 M445.8 462.4 v-2.8 M449.3 461.9 v-1.6 M452.1 462.8 v-3.9 M452.9 462.3 v-3.2 M454.2 462.0 v-1.6 M455.4 462.3 v-2.2 M456.4 462.6 v-4.0 M457.4 461.5 v-4.2 M459.1 463.0 v-2.2 M460.1 462.0 v-3.0 M461.4 461.6 v-1.7 M462.2 462.4 v-2.9 M463.1 461.9 v-1.7 M463.9 462.1 v-1.9 M464.9 462.1 v-2.3 M465.6 462.5 v-1.5 M466.4 462.1 v-2.7 M467.4 461.5 v-2.5 M468.2 462.1 v-3.5 M469.4 461.6 v-2.2 M470.7 461.8 v-2.1 M472.0 463.1 v-1.7 M473.3 463.0 v-3.6 M474.7 461.9 v-2.0 M476.0 462.2 v-2.2 M477.2 461.8 v-2.7 M478.3 462.1 v-3.4 M479.1 463.0 v-3.4 M481.4 463.0 v-1.9 M483.8 463.0 v-3.3 M485.1 462.6 v-2.9 M486.4 462.9 v-3.5 M487.3 461.7 v-4.0 M488.0 462.8 v-3.9 M489.1 462.1 v-1.9 M491.0 463.0 v-2.2 M492.3 462.8 v-4.1 M493.5 461.7 v-2.8 M494.6 461.9 v-3.1 M496.6 463.0 v-3.0 M497.5 462.4 v-2.1 M500.5 462.3 v-3.6 M501.2 462.9 v-1.9 M502.4 461.7 v-2.2 M503.1 461.7 v-4.2 M504.5 462.0 v-3.5 M505.9 463.0 v-2.1 M506.9 462.8 v-2.4 M507.8 462.4 v-1.6 M509.7 462.0 v-3.4 M510.5 462.8 v-2.3 M511.8 462.2 v-1.5 M512.6 463.0 v-3.2 M513.7 462.6 v-3.6 M515.7 461.6 v-3.2 M516.7 462.3 v-2.4 M517.6 462.2 v-1.8 M518.3 461.8 v-4.0 M519.7 462.5 v-3.2 M521.9 462.9 v-2.1 M523.7 462.4 v-1.7 M525.0 462.4 v-4.0 M525.9 462.2 v-2.1 M526.9 462.2 v-4.0 M527.7 461.6 v-2.4 M528.5 461.6 v-2.2 M529.6 462.8 v-2.6 M530.9 461.6 v-3.0" stroke="#55101f" stroke-width="0.8" fill="none" opacity="0.85"/>
<path d="M184.0 499.5 v10.1 M187.7 499.5 v9.9 M189.7 499.5 v12.8 M191.6 499.5 v5.3 M193.2 499.5 v12.9 M205.8 499.5 v9.0 M223.7 499.5 v10.4 M227.4 499.5 v10.6 M234.0 499.5 v9.4 M251.1 499.5 v11.3 M252.4 499.5 v4.1 M257.1 499.5 v10.6 M261.8 499.5 v11.4 M268.8 499.5 v12.8 M271.4 499.5 v12.4 M276.6 499.5 v3.9 M278.4 499.5 v3.3 M280.2 499.5 v12.4 M282.0 499.5 v9.5 M286.7 499.5 v9.3 M306.8 499.5 v12.2 M311.2 499.5 v10.9 M314.2 499.5 v4.8 M322.0 499.5 v9.1 M331.7 499.5 v10.4 M334.1 499.5 v11.4 M343.0 499.5 v11.8 M347.2 499.5 v8.9 M352.5 499.5 v3.5 M355.1 499.5 v11.2 M357.1 499.5 v6.9 M358.5 499.5 v4.6 M363.8 499.5 v5.8 M365.7 499.5 v3.7 M374.6 499.5 v4.0 M377.7 499.5 v11.7 M379.4 499.5 v11.3 M380.6 499.5 v4.1 M382.9 499.5 v11.9 M384.7 499.5 v5.9 M392.5 499.5 v12.5 M396.3 499.5 v9.9 M403.3 499.5 v9.2 M407.3 499.5 v12.8 M409.4 499.5 v10.3 M410.6 499.5 v10.3 M412.5 499.5 v9.4 M414.4 499.5 v11.3 M416.1 499.5 v12.3 M420.0 499.5 v5.9 M441.4 499.5 v11.7 M442.8 499.5 v4.8 M451.8 499.5 v10.6 M458.1 499.5 v9.2 M460.9 499.5 v11.8 M468.9 499.5 v11.5 M475.6 499.5 v11.8 M477.0 499.5 v12.3 M492.4 499.5 v11.7 M498.2 499.5 v9.8 M500.4 499.5 v8.7 M506.4 499.5 v3.8 M510.0 499.5 v6.0 M528.3 499.5 v10.8" stroke="#7b2236" stroke-width="1.25" fill="none"/>
<path d="M194.9 499.5 v3.6 M197.3 499.5 v9.4 M201.4 499.5 v10.1 M218.8 499.5 v10.7 M240.8 499.5 v5.6 M255.0 499.5 v12.8 M284.8 499.5 v4.9 M294.8 499.5 v12.2 M301.0 499.5 v3.8 M305.5 499.5 v12.7 M327.3 499.5 v11.9 M329.3 499.5 v10.3 M338.1 499.5 v12.6 M345.3 499.5 v5.9 M390.9 499.5 v9.7 M398.2 499.5 v6.6 M400.6 499.5 v12.9 M402.1 499.5 v11.4 M405.3 499.5 v12.3 M428.2 499.5 v9.4 M430.4 499.5 v12.9 M439.8 499.5 v4.8 M454.8 499.5 v11.8 M456.3 499.5 v4.6 M462.6 499.5 v11.9 M484.1 499.5 v11.2 M487.9 499.5 v4.4 M489.7 499.5 v11.9 M504.4 499.5 v12.5 M512.0 499.5 v11.8 M514.6 499.5 v13.0 M518.1 499.5 v12.8 M527.1 499.5 v10.8" stroke="#9a3f52" stroke-width="1.25" fill="none"/>
<path d="M199.1 499.5 v11.3 M207.4 499.5 v12.1 M211.0 499.5 v11.5 M214.5 499.5 v6.1 M221.1 499.5 v9.0 M231.7 499.5 v12.0 M238.1 499.5 v12.6 M242.6 499.5 v9.3 M245.2 499.5 v5.3 M247.2 499.5 v8.0 M249.1 499.5 v9.5 M259.9 499.5 v8.6 M265.8 499.5 v12.1 M275.0 499.5 v12.7 M291.1 499.5 v10.6 M299.3 499.5 v4.1 M309.1 499.5 v10.2 M313.0 499.5 v10.1 M316.5 499.5 v12.6 M319.8 499.5 v9.9 M323.8 499.5 v12.5 M340.6 499.5 v5.8 M350.9 499.5 v4.9 M360.4 499.5 v11.4 M367.9 499.5 v9.3 M369.5 499.5 v12.1 M372.6 499.5 v11.6 M387.7 499.5 v11.4 M422.2 499.5 v5.6 M425.9 499.5 v12.9 M433.8 499.5 v11.1 M436.3 499.5 v4.3 M446.3 499.5 v12.6 M448.4 499.5 v9.1 M464.8 499.5 v9.2 M466.8 499.5 v12.5 M472.7 499.5 v11.6 M478.2 499.5 v10.1 M481.1 499.5 v9.4 M486.5 499.5 v6.2 M494.1 499.5 v6.6 M516.5 499.5 v4.5 M520.0 499.5 v8.5 M521.8 499.5 v12.0 M525.6 499.5 v4.9" stroke="#c48d97" stroke-width="1.25" fill="none"/>
<path d="M181.7 441 V499.5" stroke="#55101f" stroke-width="0.9" fill="none" opacity="0.8"/>
<polyline points="530.6,463.6 531.3,462.8 532.0,462.0 532.7,461.2 533.4,460.5 534.2,459.7 534.9,458.9 535.6,458.1 536.3,457.3 537.0,456.5 537.7,455.8 538.4,455.0 539.1,454.2 539.9,453.4 540.6,452.6 541.3,451.8 542.0,451.1 542.7,450.3 543.4,449.5 544.1,448.7 544.8,447.9 545.6,447.1 546.3,446.4 547.0,445.6 547.7,444.8 548.4,444.0" fill="none" stroke="#b7284c" stroke-width="3.6" stroke-linejoin="round"/>
<path d="M531.7 460.3 L532.4 459.6 L533.2 458.8 L533.9 458.0 L534.6 457.2 M534.6 457.2 L535.3 456.4 L536.0 455.6 L536.7 454.9 L537.4 454.1 M537.4 454.1 L538.1 453.3 L538.9 452.5 L539.6 451.7 L540.3 450.9 M540.3 450.9 L541.0 450.1 L541.7 449.4 M541.7 449.4 L542.4 448.6 M542.4 448.6 L543.1 447.8 L543.8 447.0 M543.8 447.0 L544.6 446.2 L545.3 445.4 L546.0 444.7 M546.0 444.7 L546.7 443.9 L547.4 443.1 M531.6 464.5 L532.3 463.7 L533.0 462.9 L533.7 462.2 L534.4 461.4 M534.4 461.4 L535.2 460.6 L535.9 459.8 L536.6 459.0 L537.3 458.2 M540.1 455.1 L540.9 454.3 L541.6 453.5 L542.3 452.7 M542.3 452.7 L543.0 452.0 L543.7 451.2 M543.7 451.2 L544.4 450.4 M544.4 450.4 L545.1 449.6 M545.1 449.6 L545.8 448.8 M545.8 448.8 L546.6 448.0 M546.6 448.0 L547.3 447.3 L548.0 446.5 L548.7 445.7 L549.4 444.9" stroke="#55101f" stroke-width="1.25" fill="none" opacity="0.95"/>
<path d="M531.5 464.4 l0.7 0.6 M536.5 458.9 l0.6 0.6 M545.0 449.5 l0.7 0.6" stroke="#55101f" stroke-width="0.9" fill="none" opacity="0.8"/>
<polyline points="548.2,443.8 549.2,443.8 550.2,443.8 551.2,443.8 552.2,443.8 553.2,443.8 554.2,443.8 555.2,443.8 556.2,443.8 557.2,443.8 558.2,443.8 559.2,443.8 560.2,443.8 561.2,443.8 562.2,443.8 563.2,443.8 564.2,443.8 565.2,443.8 566.2,443.8 567.2,443.8 568.2,443.8 569.2,443.8 570.2,443.8 571.3,443.8 572.3,443.8 573.3,443.8 574.3,443.8 575.3,443.8 576.3,443.8 577.3,443.8 578.3,443.8 579.3,443.8 580.3,443.8 581.3,443.8 582.3,443.8 583.3,443.8 584.3,443.8 585.3,443.8 586.3,443.8 587.3,443.8 588.3,443.8 589.3,443.8 590.3,443.8 591.3,443.8 592.3,443.8 593.3,443.8 594.3,443.8 595.3,443.8 596.3,443.8 597.3,443.8 598.3,443.8 599.3,443.8 600.3,443.8 601.3,443.8 602.3,443.8 603.3,443.8 604.3,443.8 605.3,443.8 606.3,443.8 607.3,443.8 608.3,443.8 609.3,443.8 610.3,443.8 611.3,443.8 612.3,443.8 613.3,443.8 614.3,443.8 615.4,443.8 616.4,443.8 617.4,443.8 618.4,443.8 619.4,443.8 620.4,443.8 621.4,443.8 622.4,443.8 623.4,443.8 624.4,443.8 625.4,443.8 626.4,443.8 627.4,443.8 628.4,443.8 629.4,443.8 630.4,443.8 631.4,443.8 632.4,443.8 633.4,443.8 634.4,443.8 635.4,443.8 636.4,443.8 637.4,443.8 638.4,443.8 639.4,443.8 640.4,443.8 641.4,443.8 642.4,443.8 643.4,443.8 644.4,443.8 645.4,443.8 646.4,443.8 647.4,443.8 648.4,443.8 649.4,443.8 650.4,443.8 651.4,443.8 652.4,443.8 653.4,443.8 654.4,443.8 655.4,443.8 656.4,443.8 657.4,443.8 658.4,443.8 659.4,443.8 660.5,443.8 661.5,443.8 662.5,443.8 663.5,443.8 664.5,443.8 665.5,443.8 666.5,443.8 667.5,443.8 668.5,443.8 669.5,443.8 670.5,443.8 671.5,443.8 672.5,443.8 673.5,443.8 674.5,443.8 675.5,443.8 676.5,443.8 677.5,443.8 678.5,443.8 679.5,443.8 680.5,443.8 681.5,443.8 682.5,443.8" fill="none" stroke="#b7284c" stroke-width="6.4" stroke-linejoin="round"/>
<path d="M548.2 441.1 L549.2 441.1 M549.2 441.1 L550.2 441.1 L551.2 441.1 M551.2 441.1 L552.2 441.1 M552.2 441.1 L553.2 441.1 M553.2 441.1 L554.2 441.1 M554.2 441.1 L555.2 441.1 L556.2 441.1 L557.2 441.1 M557.2 441.1 L558.2 441.1 L559.2 441.1 L560.2 441.1 L561.2 441.1 M561.2 441.1 L562.2 441.1 L563.2 441.1 L564.2 441.1 M564.2 441.1 L565.2 441.1 L566.2 441.1 L567.2 441.1 M567.2 441.1 L568.2 441.1 M568.2 441.1 L569.2 441.1 L570.2 441.1 L571.3 441.1 M577.3 441.1 L578.3 441.1 L579.3 441.1 L580.3 441.1 M580.3 441.1 L581.3 441.1 L582.3 441.1 M582.3 441.1 L583.3 441.1 L584.3 441.1 L585.3 441.1 M589.3 441.1 L590.3 441.1 L591.3 441.1 M591.3 441.1 L592.3 441.1 L593.3 441.1 L594.3 441.1 M594.3 441.1 L595.3 441.1 M595.3 441.1 L596.3 441.1 L597.3 441.1 M597.3 441.1 L598.3 441.1 M598.3 441.1 L599.3 441.1 L600.3 441.1 L601.3 441.1 L602.3 441.1 M602.3 441.1 L603.3 441.1 L604.3 441.1 L605.3 441.1 L606.3 441.1 M606.3 441.1 L607.3 441.1 M607.3 441.1 L608.3 441.1 M608.3 441.1 L609.3 441.1 L610.3 441.1 L611.3 441.1 M611.3 441.1 L612.3 441.1 L613.3 441.1 L614.3 441.1 L615.4 441.1 M615.4 441.1 L616.4 441.1 L617.4 441.1 L618.4 441.1 M618.4 441.1 L619.4 441.1 L620.4 441.1 L621.4 441.1 L622.4 441.1 M622.4 441.1 L623.4 441.1 L624.4 441.1 L625.4 441.1 M625.4 441.1 L626.4 441.1 L627.4 441.1 L628.4 441.1 L629.4 441.1 M629.4 441.1 L630.4 441.1 L631.4 441.1 L632.4 441.1 L633.4 441.1 M633.4 441.1 L634.4 441.1 L635.4 441.1 L636.4 441.1 M636.4 441.1 L637.4 441.1 M641.4 441.1 L642.4 441.1 L643.4 441.1 M643.4 441.1 L644.4 441.1 L645.4 441.1 L646.4 441.1 M646.4 441.1 L647.4 441.1 L648.4 441.1 L649.4 441.1 L650.4 441.1 M651.4 441.1 L652.4 441.1 L653.4 441.1 L654.4 441.1 L655.4 441.1 M655.4 441.1 L656.4 441.1 M656.4 441.1 L657.4 441.1 M657.4 441.1 L658.4 441.1 L659.4 441.1 M659.4 441.1 L660.5 441.1 L661.5 441.1 L662.5 441.1 L663.5 441.1 M663.5 441.1 L664.5 441.1 L665.5 441.1 L666.5 441.1 M666.5 441.1 L667.5 441.1 L668.5 441.1 L669.5 441.1 M669.5 441.1 L670.5 441.1 L671.5 441.1 L672.5 441.1 M672.5 441.1 L673.5 441.1 L674.5 441.1 M674.5 441.1 L675.5 441.1 M680.5 441.1 L681.5 441.1 L682.5 441.1 M555.2 446.6 L556.2 446.6 L557.2 446.6 L558.2 446.6 L559.2 446.6 M559.2 446.6 L560.2 446.6 L561.2 446.6 L562.2 446.6 L563.2 446.6 M566.2 446.6 L567.2 446.6 L568.2 446.6 L569.2 446.6 M569.2 446.6 L570.2 446.6 L571.3 446.6 M571.3 446.6 L572.3 446.6 L573.3 446.6 M576.3 446.6 L577.3 446.6 L578.3 446.6 L579.3 446.6 M579.3 446.6 L580.3 446.6 L581.3 446.6 L582.3 446.6 L583.3 446.6 M583.3 446.6 L584.3 446.6 L585.3 446.6 M585.3 446.6 L586.3 446.6 L587.3 446.6 L588.3 446.6 M588.3 446.6 L589.3 446.6 L590.3 446.6 L591.3 446.6 M591.3 446.6 L592.3 446.6 L593.3 446.6 M594.3 446.6 L595.3 446.6 L596.3 446.6 M599.3 446.6 L600.3 446.6 M604.3 446.6 L605.3 446.6 L606.3 446.6 L607.3 446.6 L608.3 446.6 M608.3 446.6 L609.3 446.6 L610.3 446.6 M610.3 446.6 L611.3 446.6 L612.3 446.6 L613.3 446.6 M614.3 446.6 L615.4 446.6 L616.4 446.6 L617.4 446.6 M622.4 446.6 L623.4 446.6 M629.4 446.6 L630.4 446.6 L631.4 446.6 L632.4 446.6 M632.4 446.6 L633.4 446.6 L634.4 446.6 L635.4 446.6 L636.4 446.6 M636.4 446.6 L637.4 446.6 L638.4 446.6 L639.4 446.6 M645.4 446.6 L646.4 446.6 L647.4 446.6 L648.4 446.6 L649.4 446.6 M649.4 446.6 L650.4 446.6 L651.4 446.6 L652.4 446.6 M653.4 446.6 L654.4 446.6 L655.4 446.6 L656.4 446.6 L657.4 446.6 M659.4 446.6 L660.5 446.6 L661.5 446.6 L662.5 446.6 M665.5 446.6 L666.5 446.6 L667.5 446.6 L668.5 446.6 M668.5 446.6 L669.5 446.6 L670.5 446.6 L671.5 446.6 L672.5 446.6 M676.5 446.6 L677.5 446.6 M680.5 446.6 L681.5 446.6 L682.5 446.6" stroke="#55101f" stroke-width="1.25" fill="none" opacity="0.95"/>
<path d="M625.4 446.4 l-0.0 1.4 M632.4 446.4 l-0.0 1.1 M647.4 441.2 l0.0 -0.9 M664.5 446.4 l-0.0 1.2 M672.5 446.4 l-0.0 1.2 M680.5 441.2 l0.0 -0.9" stroke="#55101f" stroke-width="0.9" fill="none" opacity="0.8"/>
<path d="M51.2 54.9 v7.3 M682.0 55.5 v6.7" stroke="#17367c" stroke-width="0.9" fill="none" opacity="0.75"/>
<path d="M51.2 191.6 v7.0 M682.0 192.3 v6.4" stroke="#17408c" stroke-width="0.9" fill="none" opacity="0.75"/>
<path d="M51.2 339.2 v7.7 M682.0 339.9 v7.1" stroke="#0b3f35" stroke-width="0.9" fill="none" opacity="0.75"/>
<path d="M51.2 439.3 v8.2 M682.0 440.0 v7.6" stroke="#55101f" stroke-width="0.9" fill="none" opacity="0.75"/>
<rect x="48.85" y="23.4" width="634.8" height="508.3" fill="none" stroke="#2c2f3f" stroke-width="2.9"/>
<g opacity="0.999">
<polygon points="11.7,165.45 36,165.45 47,176.50 36,187.55 11.7,187.55" fill="#0b6bb8"/>
<path d="M27.50 170.10 L27.50 183.00 L24.12 183.00 L24.12 173.45 L20.60 174.49 L20.60 172.29 L24.86 170.10 Z" fill="#fff"/>
<polygon points="11.7,317.75 36,317.75 47,328.80 36,339.85 11.7,339.85" fill="#1cb4ea"/>
<text transform="translate(20.10,334.95) scale(0.9953,1)" font-size="17.53" fill="#fff" stroke="#fff" stroke-width="0.6" stroke-linejoin="round" class="b">2</text>
<polygon points="11.7,394.55 36,394.55 47,405.60 36,416.65 11.7,416.65" fill="#11a87d"/>
<text transform="translate(19.75,411.75) scale(0.9585,1)" font-size="17.53" fill="#fff" stroke="#fff" stroke-width="0.6" stroke-linejoin="round" class="b">4</text>
<polygon points="11.7,495.55 36,495.55 47,506.60 36,517.65 11.7,517.65" fill="#ba0f4f"/>
<text transform="translate(19.90,512.75) scale(0.9984,1)" font-size="17.53" fill="#fff" stroke="#fff" stroke-width="0.6" stroke-linejoin="round" class="b">3</text>
<text transform="translate(74.75,100.60) scale(0.9827,1)" font-size="22.43" fill="#0b6bb8" stroke="#0b6bb8" stroke-width="0.6" stroke-linejoin="round" class="b">V</text>
<text transform="translate(89.41,105.97) scale(0.9470,1)" font-size="16.04" fill="#0b6bb8" stroke="#0b6bb8" stroke-width="0.25" stroke-linejoin="round" class="b">IN</text>
<text transform="translate(75.15,176.50) scale(0.9960,1)" font-size="22.13" fill="#11a87d" stroke="#11a87d" stroke-width="0.6" stroke-linejoin="round" class="b">V</text>
<text transform="translate(89.94,181.98) scale(0.8886,1)" font-size="16.04" fill="#11a87d" stroke="#11a87d" stroke-width="0.25" stroke-linejoin="round" class="b">OUT</text>
<text transform="translate(124.18,178.30) scale(1.0002,1)" font-size="22.13" fill="#11a87d" stroke="#11a87d" stroke-width="0.6" stroke-linejoin="round" class="b">=</text>
<path d="M151.80 161.40 L151.80 176.80 L148.17 176.80 L148.17 165.40 L143.90 166.64 L143.90 164.02 L148.97 161.40 Z" fill="#11a87d"/>
<text transform="translate(154.00,176.50) scale(1.0418,1)" font-size="22.13" fill="#11a87d" stroke="#11a87d" stroke-width="0.6" stroke-linejoin="round" class="b">2</text>
<text transform="translate(173.15,176.50) scale(0.9960,1)" font-size="22.13" fill="#11a87d" stroke="#11a87d" stroke-width="0.6" stroke-linejoin="round" class="b">V</text>
<text transform="translate(244.75,216.60) scale(0.9891,1)" font-size="22.13" fill="#11a87d" stroke="#11a87d" stroke-width="0.6" stroke-linejoin="round" class="b">V</text>
<text transform="translate(259.54,221.97) scale(0.8856,1)" font-size="16.04" fill="#11a87d" stroke="#11a87d" stroke-width="0.25" stroke-linejoin="round" class="b">OUT</text>
<text transform="translate(293.68,218.40) scale(1.0002,1)" font-size="22.13" fill="#11a87d" stroke="#11a87d" stroke-width="0.6" stroke-linejoin="round" class="b">=</text>
<text transform="translate(311.89,216.60) scale(1.0161,1)" font-size="22.13" fill="#11a87d" stroke="#11a87d" stroke-width="0.6" stroke-linejoin="round" class="b">8</text>
<text transform="translate(330.45,216.60) scale(1.0029,1)" font-size="22.13" fill="#11a87d" stroke="#11a87d" stroke-width="0.6" stroke-linejoin="round" class="b">V</text>
<text transform="translate(82.58,314.90) scale(0.9559,1)" font-size="22.43" fill="#11a87d" stroke="#11a87d" stroke-width="0.6" stroke-linejoin="round" class="b">SW</text>
<path d="M126.10 299.40 L126.10 315.00 L122.62 315.00 L122.62 303.46 L119.00 304.70 L119.00 302.05 L123.39 299.40 Z" fill="#11a87d"/>
<text transform="translate(82.58,417.10) scale(0.9541,1)" font-size="22.43" fill="#ba0f4f" stroke="#ba0f4f" stroke-width="0.6" stroke-linejoin="round" class="b">SW2</text>
<rect x="48.2" y="541.2" width="51.1" height="20.4" fill="#0b6bb8"/>
<text transform="translate(52.35,558.65) scale(0.8769,1)" font-size="20.93" fill="#fff" stroke="#fff" stroke-width="0.6" stroke-linejoin="round" class="b">C</text>
<text transform="translate(66.72,558.65) scale(0.9834,1)" font-size="20.93" fill="#fff" stroke="#fff" stroke-width="0.6" stroke-linejoin="round" class="b">H</text>
<path d="M91.00 544.05 L91.00 558.85 L87.47 558.85 L87.47 547.90 L83.50 549.08 L83.50 546.57 L88.25 544.05 Z" fill="#fff"/>
<text transform="translate(105.90,558.65) scale(0.9314,1)" font-size="20.93" fill="#2c2f3f" stroke="#2c2f3f" stroke-width="0.6" stroke-linejoin="round" class="b">5</text>
<text transform="translate(118.49,558.65) scale(0.7787,1)" font-size="20.93" fill="#2c2f3f" stroke="#2c2f3f" stroke-width="0.6" stroke-linejoin="round" class="b">.</text>
<text transform="translate(124.02,558.65) scale(0.9443,1)" font-size="20.93" fill="#2c2f3f" stroke="#2c2f3f" stroke-width="0.6" stroke-linejoin="round" class="b">0</text>
<text transform="translate(136.02,558.65) scale(0.9443,1)" font-size="20.93" fill="#2c2f3f" stroke="#2c2f3f" stroke-width="0.6" stroke-linejoin="round" class="b">0</text>
<text transform="translate(152.14,558.65) scale(1.1262,1)" font-size="20.93" fill="#2c2f3f" stroke="#2c2f3f" stroke-width="0.6" stroke-linejoin="round" class="b">V</text>
<rect x="220.2" y="541.2" width="51.1" height="20.4" fill="#1cb4ea"/>
<text transform="translate(224.35,558.65) scale(0.8769,1)" font-size="20.93" fill="#fff" stroke="#fff" stroke-width="0.6" stroke-linejoin="round" class="b">C</text>
<text transform="translate(238.72,558.65) scale(0.9834,1)" font-size="20.93" fill="#fff" stroke="#fff" stroke-width="0.6" stroke-linejoin="round" class="b">H</text>
<text transform="translate(253.89,558.65) scale(0.9725,1)" font-size="20.93" fill="#fff" stroke="#fff" stroke-width="0.6" stroke-linejoin="round" class="b">2</text>
<text transform="translate(277.90,558.65) scale(0.9314,1)" font-size="20.93" fill="#2c2f3f" stroke="#2c2f3f" stroke-width="0.6" stroke-linejoin="round" class="b">5</text>
<text transform="translate(290.49,558.65) scale(0.7787,1)" font-size="20.93" fill="#2c2f3f" stroke="#2c2f3f" stroke-width="0.6" stroke-linejoin="round" class="b">.</text>
<text transform="translate(296.02,558.65) scale(0.9443,1)" font-size="20.93" fill="#2c2f3f" stroke="#2c2f3f" stroke-width="0.6" stroke-linejoin="round" class="b">0</text>
<text transform="translate(308.02,558.65) scale(0.9443,1)" font-size="20.93" fill="#2c2f3f" stroke="#2c2f3f" stroke-width="0.6" stroke-linejoin="round" class="b">0</text>
<text transform="translate(324.14,558.65) scale(1.1262,1)" font-size="20.93" fill="#2c2f3f" stroke="#2c2f3f" stroke-width="0.6" stroke-linejoin="round" class="b">V</text>
<rect x="391.7" y="541.2" width="51.1" height="20.4" fill="#ba0f4f"/>
<text transform="translate(395.85,558.65) scale(0.8769,1)" font-size="20.93" fill="#fff" stroke="#fff" stroke-width="0.6" stroke-linejoin="round" class="b">C</text>
<text transform="translate(410.22,558.65) scale(0.9834,1)" font-size="20.93" fill="#fff" stroke="#fff" stroke-width="0.6" stroke-linejoin="round" class="b">H</text>
<text transform="translate(425.65,558.65) scale(0.9420,1)" font-size="20.93" fill="#fff" stroke="#fff" stroke-width="0.6" stroke-linejoin="round" class="b">3</text>
<path d="M458.00 544.05 L458.00 558.85 L454.47 558.85 L454.47 547.90 L450.80 549.08 L450.80 546.57 L455.25 544.05 Z" fill="#2c2f3f"/>
<text transform="translate(460.50,558.65) scale(0.9644,1)" font-size="20.93" fill="#2c2f3f" stroke="#2c2f3f" stroke-width="0.6" stroke-linejoin="round" class="b">0</text>
<text transform="translate(473.24,558.65) scale(0.7449,1)" font-size="20.93" fill="#2c2f3f" stroke="#2c2f3f" stroke-width="0.6" stroke-linejoin="round" class="b">.</text>
<text transform="translate(478.52,558.65) scale(0.9443,1)" font-size="20.93" fill="#2c2f3f" stroke="#2c2f3f" stroke-width="0.6" stroke-linejoin="round" class="b">0</text>
<text transform="translate(495.14,558.65) scale(1.1409,1)" font-size="20.93" fill="#2c2f3f" stroke="#2c2f3f" stroke-width="0.6" stroke-linejoin="round" class="b">V</text>
<rect x="562.7" y="541.2" width="51.1" height="20.4" fill="#11a87d"/>
<text transform="translate(566.85,558.65) scale(0.8769,1)" font-size="20.93" fill="#fff" stroke="#fff" stroke-width="0.6" stroke-linejoin="round" class="b">C</text>
<text transform="translate(581.22,558.65) scale(0.9834,1)" font-size="20.93" fill="#fff" stroke="#fff" stroke-width="0.6" stroke-linejoin="round" class="b">H</text>
<text transform="translate(596.82,558.65) scale(0.8741,1)" font-size="20.93" fill="#fff" stroke="#fff" stroke-width="0.6" stroke-linejoin="round" class="b">4</text>
<path d="M629.00 544.05 L629.00 558.85 L625.47 558.85 L625.47 547.90 L621.80 549.08 L621.80 546.57 L626.25 544.05 Z" fill="#2c2f3f"/>
<text transform="translate(631.50,558.65) scale(0.9644,1)" font-size="20.93" fill="#2c2f3f" stroke="#2c2f3f" stroke-width="0.6" stroke-linejoin="round" class="b">0</text>
<text transform="translate(644.24,558.65) scale(0.7449,1)" font-size="20.93" fill="#2c2f3f" stroke="#2c2f3f" stroke-width="0.6" stroke-linejoin="round" class="b">.</text>
<text transform="translate(649.52,558.65) scale(0.9443,1)" font-size="20.93" fill="#2c2f3f" stroke="#2c2f3f" stroke-width="0.6" stroke-linejoin="round" class="b">0</text>
<text transform="translate(666.14,558.65) scale(1.1409,1)" font-size="20.93" fill="#2c2f3f" stroke="#2c2f3f" stroke-width="0.6" stroke-linejoin="round" class="b">V</text>
</g>
</svg>
</body></html>
